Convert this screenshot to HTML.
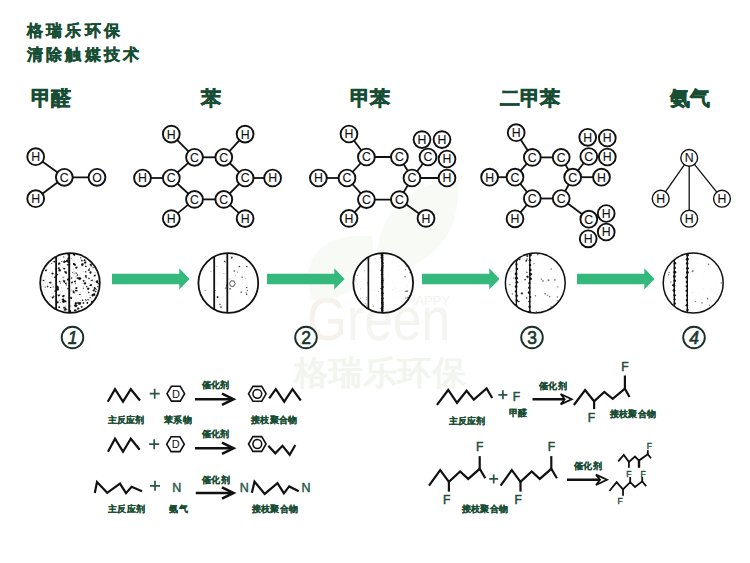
<!DOCTYPE html>
<html><head><meta charset="utf-8"><style>
html,body{margin:0;padding:0;background:#fff;}
body{width:750px;height:563px;overflow:hidden;}
svg{display:block;font-family:"Liberation Sans",sans-serif;}
.cjk{font-family:"Liberation Sans",sans-serif;}
</style></head><body>
<svg width="750" height="563" viewBox="0 0 750 563">
<rect width="750" height="563" fill="#fff"/>
<path d="M312,300 C300,262 318,232 372,236 C378,272 360,300 312,300 Z" fill="#f8faf5"/>
<path d="M378,272 C372,222 400,184 458,180 C462,236 430,270 378,272 Z" fill="#f8faf5"/>
<text x="307" y="340" font-family="Liberation Sans" font-size="62" textLength="143" lengthAdjust="spacingAndGlyphs" fill="#f7f1ec">G<tspan fill="#f4f4f1">reen</tspan></text>
<text x="406" y="305" font-family="Liberation Sans" font-size="13" textLength="44" fill="#f3f3f0">HAPPY</text>
<text x="294" y="384" font-family="Liberation Serif" font-size="33" font-weight="bold" fill="#f1f5ee" textLength="172" lengthAdjust="spacingAndGlyphs">格瑞乐环保</text>
<text x="26.8" y="36.4" font-size="15.6" font-weight="900" fill="#174d33" stroke="#174d33" stroke-width="0.4" letter-spacing="3.3" class="cjk">格瑞乐环保</text>
<text x="26.8" y="60" font-size="15.6" font-weight="900" fill="#174d33" stroke="#174d33" stroke-width="0.4" letter-spacing="3.3" class="cjk">清除触媒技术</text>
<text x="50.5" y="105.3" font-size="19.8" font-weight="900" fill="#174d33" stroke="#174d33" stroke-width="0.6" text-anchor="middle" class="cjk">甲醛</text>
<text x="210.7" y="105.3" font-size="19.8" font-weight="900" fill="#174d33" stroke="#174d33" stroke-width="0.6" text-anchor="middle" class="cjk">苯</text>
<text x="370.4" y="105.3" font-size="19.8" font-weight="900" fill="#174d33" stroke="#174d33" stroke-width="0.6" text-anchor="middle" class="cjk">甲苯</text>
<text x="529.5" y="105.3" font-size="19.8" font-weight="900" fill="#174d33" stroke="#174d33" stroke-width="0.6" text-anchor="middle" class="cjk">二甲苯</text>
<text x="689.5" y="105.3" font-size="19.8" font-weight="900" fill="#174d33" stroke="#174d33" stroke-width="0.6" text-anchor="middle" class="cjk">氨气</text>
<line x1="35.7" y1="156.7" x2="64.3" y2="177.3" stroke="#111" stroke-width="1.8"/>
<line x1="35.7" y1="198.7" x2="64.3" y2="177.3" stroke="#111" stroke-width="1.8"/>
<line x1="64.3" y1="177.3" x2="97" y2="177.3" stroke="#111" stroke-width="1.8"/>
<circle cx="35.7" cy="156.7" r="8.4" fill="#fff" stroke="#111" stroke-width="1.9"/>
<text x="35.7" y="161.128" font-size="12.3" text-anchor="middle" fill="#111" stroke="#111" stroke-width="0.12" font-family="Liberation Sans">H</text>
<circle cx="64.3" cy="177.3" r="8.4" fill="#fff" stroke="#111" stroke-width="1.9"/>
<text x="64.3" y="181.728" font-size="12.3" text-anchor="middle" fill="#111" stroke="#111" stroke-width="0.12" font-family="Liberation Sans">C</text>
<circle cx="97" cy="177.3" r="8.4" fill="#fff" stroke="#111" stroke-width="1.9"/>
<text x="97" y="181.728" font-size="12.3" text-anchor="middle" fill="#111" stroke="#111" stroke-width="0.12" font-family="Liberation Sans">O</text>
<circle cx="35.7" cy="198.7" r="8.4" fill="#fff" stroke="#111" stroke-width="1.9"/>
<text x="35.7" y="203.128" font-size="12.3" text-anchor="middle" fill="#111" stroke="#111" stroke-width="0.12" font-family="Liberation Sans">H</text>
<line x1="194.5" y1="157.3" x2="223.8" y2="157.3" stroke="#111" stroke-width="1.8"/>
<line x1="223.8" y1="157.3" x2="245.1" y2="178" stroke="#111" stroke-width="1.8"/>
<line x1="245.1" y1="178" x2="223.8" y2="199.4" stroke="#111" stroke-width="1.8"/>
<line x1="223.8" y1="199.4" x2="194.5" y2="199.4" stroke="#111" stroke-width="1.8"/>
<line x1="194.5" y1="199.4" x2="171.3" y2="178" stroke="#111" stroke-width="1.8"/>
<line x1="171.3" y1="178" x2="194.5" y2="157.3" stroke="#111" stroke-width="1.8"/>
<line x1="194.5" y1="157.3" x2="171.3" y2="134.1" stroke="#111" stroke-width="1.8"/>
<line x1="223.8" y1="157.3" x2="245.1" y2="134.1" stroke="#111" stroke-width="1.8"/>
<line x1="245.1" y1="178" x2="272.6" y2="178" stroke="#111" stroke-width="1.8"/>
<line x1="223.8" y1="199.4" x2="245.1" y2="218.6" stroke="#111" stroke-width="1.8"/>
<line x1="194.5" y1="199.4" x2="171.3" y2="218.6" stroke="#111" stroke-width="1.8"/>
<line x1="171.3" y1="178" x2="142.5" y2="178" stroke="#111" stroke-width="1.8"/>
<circle cx="194.5" cy="157.3" r="8.4" fill="#fff" stroke="#111" stroke-width="1.9"/>
<text x="194.5" y="161.728" font-size="12.3" text-anchor="middle" fill="#111" stroke="#111" stroke-width="0.12" font-family="Liberation Sans">C</text>
<circle cx="223.8" cy="157.3" r="8.4" fill="#fff" stroke="#111" stroke-width="1.9"/>
<text x="223.8" y="161.728" font-size="12.3" text-anchor="middle" fill="#111" stroke="#111" stroke-width="0.12" font-family="Liberation Sans">C</text>
<circle cx="245.1" cy="178" r="8.4" fill="#fff" stroke="#111" stroke-width="1.9"/>
<text x="245.1" y="182.428" font-size="12.3" text-anchor="middle" fill="#111" stroke="#111" stroke-width="0.12" font-family="Liberation Sans">C</text>
<circle cx="223.8" cy="199.4" r="8.4" fill="#fff" stroke="#111" stroke-width="1.9"/>
<text x="223.8" y="203.828" font-size="12.3" text-anchor="middle" fill="#111" stroke="#111" stroke-width="0.12" font-family="Liberation Sans">C</text>
<circle cx="194.5" cy="199.4" r="8.4" fill="#fff" stroke="#111" stroke-width="1.9"/>
<text x="194.5" y="203.828" font-size="12.3" text-anchor="middle" fill="#111" stroke="#111" stroke-width="0.12" font-family="Liberation Sans">C</text>
<circle cx="171.3" cy="178" r="8.4" fill="#fff" stroke="#111" stroke-width="1.9"/>
<text x="171.3" y="182.428" font-size="12.3" text-anchor="middle" fill="#111" stroke="#111" stroke-width="0.12" font-family="Liberation Sans">C</text>
<circle cx="171.3" cy="134.1" r="8.4" fill="#fff" stroke="#111" stroke-width="1.9"/>
<text x="171.3" y="138.528" font-size="12.3" text-anchor="middle" fill="#111" stroke="#111" stroke-width="0.12" font-family="Liberation Sans">H</text>
<circle cx="245.1" cy="134.1" r="8.4" fill="#fff" stroke="#111" stroke-width="1.9"/>
<text x="245.1" y="138.528" font-size="12.3" text-anchor="middle" fill="#111" stroke="#111" stroke-width="0.12" font-family="Liberation Sans">H</text>
<circle cx="272.6" cy="178" r="8.4" fill="#fff" stroke="#111" stroke-width="1.9"/>
<text x="272.6" y="182.428" font-size="12.3" text-anchor="middle" fill="#111" stroke="#111" stroke-width="0.12" font-family="Liberation Sans">H</text>
<circle cx="245.1" cy="218.6" r="8.4" fill="#fff" stroke="#111" stroke-width="1.9"/>
<text x="245.1" y="223.028" font-size="12.3" text-anchor="middle" fill="#111" stroke="#111" stroke-width="0.12" font-family="Liberation Sans">H</text>
<circle cx="171.3" cy="218.6" r="8.4" fill="#fff" stroke="#111" stroke-width="1.9"/>
<text x="171.3" y="223.028" font-size="12.3" text-anchor="middle" fill="#111" stroke="#111" stroke-width="0.12" font-family="Liberation Sans">H</text>
<circle cx="142.5" cy="178" r="8.4" fill="#fff" stroke="#111" stroke-width="1.9"/>
<text x="142.5" y="182.428" font-size="12.3" text-anchor="middle" fill="#111" stroke="#111" stroke-width="0.12" font-family="Liberation Sans">H</text>
<line x1="366.4" y1="157" x2="399.4" y2="157" stroke="#111" stroke-width="1.8"/>
<line x1="399.4" y1="157" x2="412" y2="178" stroke="#111" stroke-width="1.8"/>
<line x1="412" y1="178" x2="399.4" y2="199.6" stroke="#111" stroke-width="1.8"/>
<line x1="399.4" y1="199.6" x2="366.4" y2="199.6" stroke="#111" stroke-width="1.8"/>
<line x1="366.4" y1="199.6" x2="347" y2="178" stroke="#111" stroke-width="1.8"/>
<line x1="347" y1="178" x2="366.4" y2="157" stroke="#111" stroke-width="1.8"/>
<line x1="366.4" y1="157" x2="349" y2="134" stroke="#111" stroke-width="1.8"/>
<line x1="347" y1="178" x2="318.4" y2="178" stroke="#111" stroke-width="1.8"/>
<line x1="366.4" y1="199.6" x2="349" y2="218.4" stroke="#111" stroke-width="1.8"/>
<line x1="399.4" y1="199.6" x2="426" y2="218.4" stroke="#111" stroke-width="1.8"/>
<line x1="412" y1="178" x2="447" y2="178" stroke="#111" stroke-width="1.8"/>
<line x1="412" y1="178" x2="428" y2="157" stroke="#111" stroke-width="1.8"/>
<circle cx="366.4" cy="157" r="8.4" fill="#fff" stroke="#111" stroke-width="1.9"/>
<text x="366.4" y="161.428" font-size="12.3" text-anchor="middle" fill="#111" stroke="#111" stroke-width="0.12" font-family="Liberation Sans">C</text>
<circle cx="399.4" cy="157" r="8.4" fill="#fff" stroke="#111" stroke-width="1.9"/>
<text x="399.4" y="161.428" font-size="12.3" text-anchor="middle" fill="#111" stroke="#111" stroke-width="0.12" font-family="Liberation Sans">C</text>
<circle cx="412" cy="178" r="8.4" fill="#fff" stroke="#111" stroke-width="1.9"/>
<text x="412" y="182.428" font-size="12.3" text-anchor="middle" fill="#111" stroke="#111" stroke-width="0.12" font-family="Liberation Sans">C</text>
<circle cx="399.4" cy="199.6" r="8.4" fill="#fff" stroke="#111" stroke-width="1.9"/>
<text x="399.4" y="204.028" font-size="12.3" text-anchor="middle" fill="#111" stroke="#111" stroke-width="0.12" font-family="Liberation Sans">C</text>
<circle cx="366.4" cy="199.6" r="8.4" fill="#fff" stroke="#111" stroke-width="1.9"/>
<text x="366.4" y="204.028" font-size="12.3" text-anchor="middle" fill="#111" stroke="#111" stroke-width="0.12" font-family="Liberation Sans">C</text>
<circle cx="347" cy="178" r="8.4" fill="#fff" stroke="#111" stroke-width="1.9"/>
<text x="347" y="182.428" font-size="12.3" text-anchor="middle" fill="#111" stroke="#111" stroke-width="0.12" font-family="Liberation Sans">C</text>
<circle cx="349" cy="134" r="8.4" fill="#fff" stroke="#111" stroke-width="1.9"/>
<text x="349" y="138.428" font-size="12.3" text-anchor="middle" fill="#111" stroke="#111" stroke-width="0.12" font-family="Liberation Sans">H</text>
<circle cx="318.4" cy="178" r="8.4" fill="#fff" stroke="#111" stroke-width="1.9"/>
<text x="318.4" y="182.428" font-size="12.3" text-anchor="middle" fill="#111" stroke="#111" stroke-width="0.12" font-family="Liberation Sans">H</text>
<circle cx="349" cy="218.4" r="8.4" fill="#fff" stroke="#111" stroke-width="1.9"/>
<text x="349" y="222.828" font-size="12.3" text-anchor="middle" fill="#111" stroke="#111" stroke-width="0.12" font-family="Liberation Sans">H</text>
<circle cx="426" cy="218.4" r="8.4" fill="#fff" stroke="#111" stroke-width="1.9"/>
<text x="426" y="222.828" font-size="12.3" text-anchor="middle" fill="#111" stroke="#111" stroke-width="0.12" font-family="Liberation Sans">H</text>
<circle cx="447" cy="178" r="8.4" fill="#fff" stroke="#111" stroke-width="1.9"/>
<text x="447" y="182.428" font-size="12.3" text-anchor="middle" fill="#111" stroke="#111" stroke-width="0.12" font-family="Liberation Sans">H</text>
<circle cx="428" cy="157" r="8.4" fill="#fff" stroke="#111" stroke-width="1.9"/>
<text x="428" y="161.428" font-size="12.3" text-anchor="middle" fill="#111" stroke="#111" stroke-width="0.12" font-family="Liberation Sans">C</text>
<circle cx="422" cy="139.6" r="8.4" fill="#fff" stroke="#111" stroke-width="1.9"/>
<text x="422" y="144.028" font-size="12.3" text-anchor="middle" fill="#111" stroke="#111" stroke-width="0.12" font-family="Liberation Sans">H</text>
<circle cx="442" cy="139.6" r="8.4" fill="#fff" stroke="#111" stroke-width="1.9"/>
<text x="442" y="144.028" font-size="12.3" text-anchor="middle" fill="#111" stroke="#111" stroke-width="0.12" font-family="Liberation Sans">H</text>
<circle cx="447" cy="159" r="8.4" fill="#fff" stroke="#111" stroke-width="1.9"/>
<text x="447" y="163.428" font-size="12.3" text-anchor="middle" fill="#111" stroke="#111" stroke-width="0.12" font-family="Liberation Sans">H</text>
<line x1="532.3" y1="157.4" x2="561.2" y2="157.4" stroke="#111" stroke-width="1.8"/>
<line x1="561.2" y1="157.4" x2="572.7" y2="177.2" stroke="#111" stroke-width="1.8"/>
<line x1="572.7" y1="177.2" x2="561.2" y2="198.5" stroke="#111" stroke-width="1.8"/>
<line x1="561.2" y1="198.5" x2="532.3" y2="198.5" stroke="#111" stroke-width="1.8"/>
<line x1="532.3" y1="198.5" x2="515" y2="177.2" stroke="#111" stroke-width="1.8"/>
<line x1="515" y1="177.2" x2="532.3" y2="157.4" stroke="#111" stroke-width="1.8"/>
<line x1="532.3" y1="157.4" x2="516.2" y2="132.7" stroke="#111" stroke-width="1.8"/>
<line x1="515" y1="177.2" x2="489.6" y2="177.2" stroke="#111" stroke-width="1.8"/>
<line x1="532.3" y1="198.5" x2="515" y2="218.8" stroke="#111" stroke-width="1.8"/>
<line x1="572.7" y1="177.2" x2="601.5" y2="177.2" stroke="#111" stroke-width="1.8"/>
<line x1="572.7" y1="177.2" x2="588.8" y2="156.5" stroke="#111" stroke-width="1.8"/>
<line x1="561.2" y1="198.5" x2="588.8" y2="219.2" stroke="#111" stroke-width="1.8"/>
<circle cx="532.3" cy="157.4" r="8.4" fill="#fff" stroke="#111" stroke-width="1.9"/>
<text x="532.3" y="161.828" font-size="12.3" text-anchor="middle" fill="#111" stroke="#111" stroke-width="0.12" font-family="Liberation Sans">C</text>
<circle cx="561.2" cy="157.4" r="8.4" fill="#fff" stroke="#111" stroke-width="1.9"/>
<text x="561.2" y="161.828" font-size="12.3" text-anchor="middle" fill="#111" stroke="#111" stroke-width="0.12" font-family="Liberation Sans">C</text>
<circle cx="572.7" cy="177.2" r="8.4" fill="#fff" stroke="#111" stroke-width="1.9"/>
<text x="572.7" y="181.628" font-size="12.3" text-anchor="middle" fill="#111" stroke="#111" stroke-width="0.12" font-family="Liberation Sans">C</text>
<circle cx="561.2" cy="198.5" r="8.4" fill="#fff" stroke="#111" stroke-width="1.9"/>
<text x="561.2" y="202.928" font-size="12.3" text-anchor="middle" fill="#111" stroke="#111" stroke-width="0.12" font-family="Liberation Sans">C</text>
<circle cx="532.3" cy="198.5" r="8.4" fill="#fff" stroke="#111" stroke-width="1.9"/>
<text x="532.3" y="202.928" font-size="12.3" text-anchor="middle" fill="#111" stroke="#111" stroke-width="0.12" font-family="Liberation Sans">C</text>
<circle cx="515" cy="177.2" r="8.4" fill="#fff" stroke="#111" stroke-width="1.9"/>
<text x="515" y="181.628" font-size="12.3" text-anchor="middle" fill="#111" stroke="#111" stroke-width="0.12" font-family="Liberation Sans">C</text>
<circle cx="516.2" cy="132.7" r="8.4" fill="#fff" stroke="#111" stroke-width="1.9"/>
<text x="516.2" y="137.128" font-size="12.3" text-anchor="middle" fill="#111" stroke="#111" stroke-width="0.12" font-family="Liberation Sans">H</text>
<circle cx="489.6" cy="177.2" r="8.4" fill="#fff" stroke="#111" stroke-width="1.9"/>
<text x="489.6" y="181.628" font-size="12.3" text-anchor="middle" fill="#111" stroke="#111" stroke-width="0.12" font-family="Liberation Sans">H</text>
<circle cx="515" cy="218.8" r="8.4" fill="#fff" stroke="#111" stroke-width="1.9"/>
<text x="515" y="223.228" font-size="12.3" text-anchor="middle" fill="#111" stroke="#111" stroke-width="0.12" font-family="Liberation Sans">H</text>
<circle cx="601.5" cy="177.2" r="8.4" fill="#fff" stroke="#111" stroke-width="1.9"/>
<text x="601.5" y="181.628" font-size="12.3" text-anchor="middle" fill="#111" stroke="#111" stroke-width="0.12" font-family="Liberation Sans">H</text>
<circle cx="588.8" cy="156.5" r="8.4" fill="#fff" stroke="#111" stroke-width="1.9"/>
<text x="588.8" y="160.928" font-size="12.3" text-anchor="middle" fill="#111" stroke="#111" stroke-width="0.12" font-family="Liberation Sans">C</text>
<circle cx="587.7" cy="137.3" r="8.4" fill="#fff" stroke="#111" stroke-width="1.9"/>
<text x="587.7" y="141.728" font-size="12.3" text-anchor="middle" fill="#111" stroke="#111" stroke-width="0.12" font-family="Liberation Sans">H</text>
<circle cx="607.3" cy="138" r="8.4" fill="#fff" stroke="#111" stroke-width="1.9"/>
<text x="607.3" y="142.428" font-size="12.3" text-anchor="middle" fill="#111" stroke="#111" stroke-width="0.12" font-family="Liberation Sans">H</text>
<circle cx="607.3" cy="157" r="8.4" fill="#fff" stroke="#111" stroke-width="1.9"/>
<text x="607.3" y="161.428" font-size="12.3" text-anchor="middle" fill="#111" stroke="#111" stroke-width="0.12" font-family="Liberation Sans">H</text>
<circle cx="588.8" cy="219.2" r="8.4" fill="#fff" stroke="#111" stroke-width="1.9"/>
<text x="588.8" y="223.628" font-size="12.3" text-anchor="middle" fill="#111" stroke="#111" stroke-width="0.12" font-family="Liberation Sans">C</text>
<circle cx="606.2" cy="213.5" r="8.4" fill="#fff" stroke="#111" stroke-width="1.9"/>
<text x="606.2" y="217.928" font-size="12.3" text-anchor="middle" fill="#111" stroke="#111" stroke-width="0.12" font-family="Liberation Sans">H</text>
<circle cx="606.2" cy="232" r="8.4" fill="#fff" stroke="#111" stroke-width="1.9"/>
<text x="606.2" y="236.428" font-size="12.3" text-anchor="middle" fill="#111" stroke="#111" stroke-width="0.12" font-family="Liberation Sans">H</text>
<circle cx="588.2" cy="238.8" r="8.4" fill="#fff" stroke="#111" stroke-width="1.9"/>
<text x="588.2" y="243.228" font-size="12.3" text-anchor="middle" fill="#111" stroke="#111" stroke-width="0.12" font-family="Liberation Sans">H</text>
<line x1="689.2" y1="157.9" x2="660.7" y2="198.7" stroke="#111" stroke-width="1.3"/>
<line x1="689.2" y1="157.9" x2="722" y2="198.7" stroke="#111" stroke-width="1.3"/>
<line x1="689.2" y1="157.9" x2="689.2" y2="218.7" stroke="#111" stroke-width="1.3"/>
<circle cx="689.2" cy="157.9" r="8.4" fill="#fff" stroke="#111" stroke-width="1.4"/>
<text x="689.2" y="162.328" font-size="12.3" text-anchor="middle" fill="#111" stroke="#111" stroke-width="0.12" font-family="Liberation Sans">N</text>
<circle cx="660.7" cy="198.7" r="8.4" fill="#fff" stroke="#111" stroke-width="1.4"/>
<text x="660.7" y="203.128" font-size="12.3" text-anchor="middle" fill="#111" stroke="#111" stroke-width="0.12" font-family="Liberation Sans">H</text>
<circle cx="722" cy="198.7" r="8.4" fill="#fff" stroke="#111" stroke-width="1.4"/>
<text x="722" y="203.128" font-size="12.3" text-anchor="middle" fill="#111" stroke="#111" stroke-width="0.12" font-family="Liberation Sans">H</text>
<circle cx="689.2" cy="218.7" r="8.4" fill="#fff" stroke="#111" stroke-width="1.4"/>
<text x="689.2" y="223.128" font-size="12.3" text-anchor="middle" fill="#111" stroke="#111" stroke-width="0.12" font-family="Liberation Sans">H</text>
<g>
<clipPath id="clip70"><circle cx="70" cy="283" r="29.8"/></clipPath>
<circle cx="70" cy="283" r="29.8" fill="#fff"/>
<g clip-path="url(#clip70)">
<polygon points="59.6,261.9 60.0,262.4 59.3,262.4 59.1,262.0" fill="#aaa"/>
<polygon points="43.0,286.4 43.7,286.4 43.9,286.8 43.9,287.2 43.4,287.2 42.9,287.0" fill="#aaa"/>
<polygon points="74.8,290.9 75.2,291.1 75.3,291.4 75.0,291.7 74.7,291.4 74.5,291.2" fill="#aaa"/>
<polygon points="57.9,283.1 57.7,282.7 57.9,282.5 58.2,282.6 58.4,282.9" fill="#aaa"/>
<polygon points="92.0,271.9 92.4,271.7 92.8,271.6 93.1,271.9 92.8,272.3 92.3,272.3" fill="#aaa"/>
<polygon points="93.4,274.1 92.8,274.2 92.8,273.7 93.3,273.4 93.7,273.8" fill="#aaa"/>
<polygon points="91.7,269.5 92.0,269.7 92.2,269.9 91.7,270.1 91.5,269.8" fill="#aaa"/>
<polygon points="71.9,289.2 72.4,289.4 72.2,290.0 71.7,289.7" fill="#aaa"/>
<polygon points="63.4,277.1 63.3,276.9 63.5,276.8 63.8,276.8 63.9,277.1 63.6,277.1" fill="#aaa"/>
<polygon points="62.3,291.3 61.8,290.9 62.4,290.6 62.8,290.8 63.0,291.1 62.7,291.3" fill="#aaa"/>
<polygon points="97.4,284.5 97.3,284.8 97.1,285.0 96.7,284.8 96.9,284.6 97.1,284.4" fill="#aaa"/>
<polygon points="77.0,299.6 77.2,300.3 76.6,300.5 76.5,300.1" fill="#aaa"/>
<polygon points="55.8,294.0 56.3,294.5 55.7,294.8 55.1,294.7 55.0,294.0" fill="#aaa"/>
<polygon points="61.2,291.2 60.9,291.9 60.1,291.8 60.3,291.0" fill="#aaa"/>
<polygon points="64.2,277.6 63.5,277.6 63.1,277.2 63.4,276.7 64.1,276.6 64.3,277.1" fill="#aaa"/>
<polygon points="88.2,296.4 88.2,296.6 87.9,296.7 87.8,296.6 87.8,296.4 88.0,296.3" fill="#aaa"/>
<polygon points="60.7,280.8 60.8,280.3 61.2,280.3 61.5,280.4 61.7,280.7 61.2,280.9" fill="#aaa"/>
<polygon points="72.9,272.7 73.2,272.5 73.5,272.4 73.8,272.6 73.7,272.9 73.2,273.0" fill="#aaa"/>
<polygon points="76.1,265.0 76.3,264.7 76.7,264.8 76.7,265.2 76.5,265.4 76.2,265.2" fill="#aaa"/>
<polygon points="44.9,292.9 44.5,293.4 43.9,293.3 44.3,292.8" fill="#aaa"/>
<polygon points="49.5,293.1 49.6,292.9 49.8,292.7 50.1,292.9 49.9,293.1 49.7,293.3" fill="#aaa"/>
<polygon points="46.3,269.2 46.0,269.0 46.3,268.9 46.6,269.1" fill="#aaa"/>
<polygon points="82.2,258.8 81.9,258.6 81.8,258.5 81.9,258.4 82.1,258.4 82.4,258.6" fill="#aaa"/>
<polygon points="94.9,290.4 94.8,290.3 94.7,290.2 94.9,290.0 95.1,290.1 95.1,290.3" fill="#aaa"/>
<polygon points="84.0,286.3 83.7,286.2 83.8,285.8 84.2,285.8 84.2,286.1" fill="#aaa"/>
<polygon points="51.6,305.9 51.7,305.6 52.4,305.5 52.1,306.0" fill="#aaa"/>
<polygon points="80.5,270.1 80.2,270.2 80.0,270.1 80.1,269.8 80.5,269.7" fill="#aaa"/>
<polygon points="50.8,273.2 50.9,273.1 51.1,273.1 51.1,273.3 50.9,273.4" fill="#aaa"/>
<polygon points="75.6,284.4 75.7,284.9 75.2,285.1 74.7,285.0 74.6,284.5 75.1,284.3" fill="#aaa"/>
<polygon points="81.5,283.1 82.0,282.7 82.6,282.9 82.6,283.5 82.1,283.7 81.5,283.7" fill="#aaa"/>
<polygon points="67.0,256.1 67.3,256.0 67.3,256.2 67.2,256.4 66.9,256.4 66.9,256.2" fill="#aaa"/>
<polygon points="83.3,265.4 83.6,264.9 84.2,265.1 84.0,265.6 83.7,265.8" fill="#aaa"/>
<polygon points="57.9,287.1 58.2,286.9 58.5,287.0 58.3,287.3" fill="#aaa"/>
<polygon points="58.2,258.5 58.5,258.1 58.9,258.1 59.0,258.4 58.7,258.6" fill="#aaa"/>
<polygon points="88.9,283.9 88.7,283.4 89.0,282.9 89.5,283.2 89.7,283.6 89.3,283.8" fill="#aaa"/>
<polygon points="59.4,273.0 59.8,273.3 59.6,273.8 59.2,273.4" fill="#aaa"/>
<polygon points="56.9,309.1 56.9,308.7 57.2,308.8 57.4,309.0 57.2,309.2" fill="#aaa"/>
<polygon points="64.3,289.9 64.6,289.7 64.8,289.7 64.9,290.0 64.6,290.1" fill="#aaa"/>
<polygon points="69.1,293.3 68.9,293.3 68.6,293.1 68.9,292.9 69.1,292.9 69.2,293.1" fill="#aaa"/>
<polygon points="54.3,268.3 54.8,268.6 54.3,268.9 54.0,268.6" fill="#aaa"/>
<polygon points="48.0,283.5 47.3,283.6 47.2,283.0 47.9,282.8" fill="#aaa"/>
<polygon points="65.2,298.7 65.1,298.2 65.7,298.3 66.1,298.7 65.7,299.1 65.4,299.0" fill="#aaa"/>
<polygon points="81.7,303.5 82.2,303.2 82.6,303.8 81.9,303.9" fill="#aaa"/>
<polygon points="78.1,295.1 78.0,294.8 78.2,294.7 78.5,294.9" fill="#aaa"/>
<polygon points="59.0,303.5 58.7,303.4 58.8,303.2 58.9,302.9 59.2,303.1 59.4,303.4" fill="#aaa"/>
<polygon points="65.2,293.6 65.6,293.8 65.5,294.1 65.1,294.1 65.0,293.8" fill="#aaa"/>
<polygon points="69.9,264.3 70.1,264.6 69.7,264.5 69.5,264.3 69.7,264.2" fill="#aaa"/>
<polygon points="82.9,271.8 82.9,272.3 82.6,272.0 82.6,271.7" fill="#aaa"/>
<polygon points="60.1,263.4 59.9,263.5 59.7,263.3 59.8,263.1 60.0,263.2" fill="#aaa"/>
<polygon points="51.4,285.7 51.4,285.3 51.8,285.1 52.0,285.4 52.0,285.8" fill="#aaa"/>
<polygon points="84.6,307.0 84.4,306.7 84.8,306.4 85.2,306.6 85.1,307.1" fill="#aaa"/>
<polygon points="46.6,295.3 46.7,295.8 46.5,296.1 46.2,296.1 46.2,295.7" fill="#aaa"/>
<polygon points="92.0,280.8 91.7,281.0 91.4,280.8 91.3,280.4 91.7,280.0 92.0,280.5" fill="#aaa"/>
<polygon points="45.9,283.2 45.4,283.3 45.3,282.7 45.9,282.3 46.2,282.9" fill="#aaa"/>
<polygon points="56.1,268.5 55.7,268.5 55.9,268.1 56.3,268.0 56.3,268.4" fill="#aaa"/>
<polygon points="46.4,281.4 46.4,281.7 45.9,282.1 45.5,281.4 46.0,280.9" fill="#aaa"/>
<polygon points="55.2,299.1 55.9,299.4 55.8,299.9 55.3,299.8" fill="#aaa"/>
<polygon points="89.0,277.8 88.8,277.6 89.0,277.4 89.3,277.2 89.4,277.6 89.4,277.9" fill="#aaa"/>
<polygon points="57.0,270.9 57.3,271.4 57.4,272.0 56.7,271.9 56.3,271.4" fill="#aaa"/>
<polygon points="45.6,287.8 45.1,287.9 45.2,287.3 45.7,287.4" fill="#aaa"/>
<polygon points="61.1,263.0 60.6,263.1 60.7,262.7 61.1,262.6" fill="#aaa"/>
<polygon points="62.9,306.7 63.6,306.9 63.6,307.4 63.0,307.3" fill="#aaa"/>
<polygon points="49.5,274.4 49.7,274.6 49.6,274.8 49.3,274.8 49.0,274.7 49.2,274.4" fill="#aaa"/>
<polygon points="54.7,276.5 54.7,276.2 55.0,276.0 55.3,276.3 55.2,276.6 54.9,276.6" fill="#aaa"/>
<polygon points="45.8,279.6 45.4,279.9 45.2,279.5 45.6,279.1" fill="#aaa"/>
<polygon points="44.2,290.3 43.4,290.0 43.9,289.5 44.6,289.6" fill="#aaa"/>
<polygon points="61.0,298.5 60.8,298.4 60.9,298.2 61.1,298.0 61.2,298.2 61.2,298.4" fill="#aaa"/>
<polygon points="81.0,306.8 80.7,306.8 80.5,306.5 80.7,306.3 81.1,306.4" fill="#aaa"/>
<polygon points="63.4,300.6 63.7,300.5 64.0,300.7 63.8,301.0 63.4,301.0" fill="#aaa"/>
<polygon points="75.1,292.5 75.5,292.7 75.2,293.0 74.8,292.8" fill="#aaa"/>
<polygon points="74.1,271.7 73.8,271.5 73.6,271.2 73.9,270.9 74.3,271.2 74.5,271.5" fill="#aaa"/>
<polygon points="87.3,277.3 86.8,277.5 86.6,277.0 87.0,276.9" fill="#aaa"/>
<polygon points="46.5,290.0 45.9,290.0 45.9,289.4 46.6,289.5" fill="#aaa"/>
<polygon points="87.0,295.6 87.2,295.8 87.1,295.9 86.9,295.9 86.7,295.8" fill="#aaa"/>
<polygon points="90.6,295.3 91.0,295.3 91.1,295.7 90.8,295.8 90.6,295.8 90.3,295.6" fill="#aaa"/>
<polygon points="51.9,276.1 51.9,276.7 51.4,276.8 51.0,276.3 51.4,276.0" fill="#aaa"/>
<polygon points="73.9,271.4 74.2,271.4 74.5,271.4 74.6,271.7 74.2,271.7 73.9,271.7" fill="#aaa"/>
<polygon points="91.5,298.5 91.8,298.8 91.4,298.8 91.2,298.7 91.0,298.5 91.3,298.3" fill="#aaa"/>
<polygon points="78.0,270.1 78.1,270.4 77.8,270.6 77.7,270.3" fill="#aaa"/>
<polygon points="76.4,281.6 76.2,281.9 75.9,281.8 75.9,281.5 76.0,281.3 76.3,281.4" fill="#aaa"/>
<polygon points="51.9,298.9 51.6,298.2 52.5,298.1 52.6,298.9" fill="#aaa"/>
<polygon points="49.1,301.8 49.5,301.4 50.2,301.8 49.5,302.3" fill="#aaa"/>
<polygon points="63.6,277.0 63.9,276.4 64.6,276.5 64.4,277.3" fill="#aaa"/>
<polygon points="75.4,294.5 75.2,294.0 75.9,294.0 76.0,294.5" fill="#aaa"/>
<polygon points="74.8,261.0 74.4,261.0 74.5,260.6 74.7,260.4 75.1,260.5 75.1,260.8" fill="#aaa"/>
<polygon points="46.0,275.7 46.7,275.9 46.4,276.4 45.9,276.4 45.4,276.0" fill="#aaa"/>
<polygon points="70.0,291.2 69.7,290.9 70.0,290.5 70.5,290.9" fill="#aaa"/>
<polygon points="79.9,291.5 80.5,291.7 80.5,292.2 80.2,292.4 79.6,292.6 79.5,292.0" fill="#aaa"/>
<polygon points="64.9,280.3 65.3,279.9 65.7,280.2 65.8,280.6 65.3,280.6" fill="#aaa"/>
<polygon points="51.4,273.8 52.0,273.4 52.5,273.8 52.4,274.4 51.7,274.4" fill="#aaa"/>
<polygon points="85.5,260.2 86.0,260.3 86.5,260.7 85.8,261.1 85.4,260.6" fill="#aaa"/>
<polygon points="63.6,310.1 63.8,309.7 64.3,309.7 64.6,310.3 64.0,310.4" fill="#aaa"/>
<polygon points="89.9,300.2 90.2,300.5 90.0,300.8 89.6,301.0 89.4,300.5" fill="#aaa"/>
<polygon points="88.2,301.1 87.9,300.9 88.1,300.6 88.5,300.5 88.8,300.7 88.6,301.1" fill="#aaa"/>
<polygon points="89.9,291.1 89.6,291.0 89.8,290.7 90.1,290.9" fill="#aaa"/>
<polygon points="52.9,276.9 52.9,277.4 52.6,277.7 52.3,277.4 52.1,277.0 52.4,276.8" fill="#aaa"/>
<polygon points="73.0,269.0 73.2,268.6 73.6,268.9 73.4,269.3" fill="#aaa"/>
<polygon points="49.3,271.9 49.9,272.0 49.9,272.4 49.6,272.7 49.1,272.4" fill="#aaa"/>
<polygon points="95.2,272.9 95.6,272.6 96.1,272.6 96.5,272.8 96.3,273.4 95.6,273.4" fill="#aaa"/>
<polygon points="60.4,268.5 60.3,268.2 60.4,267.9 60.7,268.0 60.7,268.3" fill="#aaa"/>
<polygon points="57.6,288.4 57.7,287.8 58.2,288.0 58.3,288.5" fill="#aaa"/>
<polygon points="69.8,285.3 70.3,285.4 70.3,285.9 69.7,285.8" fill="#aaa"/>
<polygon points="79.0,275.1 79.4,274.8 79.8,275.1 79.7,275.6 79.0,275.5" fill="#aaa"/>
<polygon points="74.3,307.5 74.9,307.8 74.7,308.3 74.3,308.1" fill="#aaa"/>
<polygon points="93.6,290.3 94.0,290.5 93.9,290.7 93.3,290.7" fill="#aaa"/>
<polygon points="83.9,264.1 84.1,264.3 84.3,264.4 84.1,264.6 83.8,264.6 83.9,264.3" fill="#aaa"/>
<polygon points="78.9,302.2 78.7,301.9 79.0,301.7 79.3,301.8 79.2,302.1" fill="#aaa"/>
<polygon points="50.3,300.8 50.0,301.2 49.5,301.4 49.4,300.9 49.8,300.5" fill="#aaa"/>
<polygon points="90.2,289.0 90.0,289.3 89.7,289.2 89.5,288.9 89.9,288.8" fill="#aaa"/>
<polygon points="87.2,270.7 86.9,270.7 86.7,270.4 86.8,270.2 87.1,270.2 87.3,270.4" fill="#aaa"/>
<polygon points="58.6,256.9 58.3,256.9 58.3,256.6 58.4,256.3 58.8,256.3 59.0,256.7" fill="#aaa"/>
<polygon points="68.9,288.5 68.4,288.5 68.3,288.1 68.7,288.1" fill="#aaa"/>
<polygon points="69.7,304.6 69.9,304.8 69.7,305.0 69.2,305.2 69.3,304.7" fill="#aaa"/>
<polygon points="55.7,299.1 56.0,299.6 55.8,299.8 55.5,299.8 55.3,299.5" fill="#aaa"/>
<polygon points="67.9,309.2 68.0,310.0 67.2,309.9 67.2,309.4" fill="#aaa"/>
<polygon points="71.1,264.0 70.6,264.3 70.1,264.5 69.8,263.8 70.4,263.7" fill="#aaa"/>
<polygon points="83.0,291.9 82.3,292.1 82.1,291.4 82.9,291.3" fill="#aaa"/>
<polygon points="62.4,276.6 62.0,276.7 61.9,276.3 62.3,276.2 62.6,276.4" fill="#aaa"/>
<polygon points="48.5,279.6 48.6,279.9 48.4,280.1 48.2,279.9 48.3,279.7" fill="#aaa"/>
<polygon points="72.8,262.0 72.8,261.5 73.5,261.4 73.6,261.9 73.3,262.2" fill="#aaa"/>
<polygon points="70.2,290.6 71.0,290.2 71.2,290.9 70.7,291.1" fill="#aaa"/>
<polygon points="63.6,277.9 63.6,278.2 63.3,278.2 63.1,278.0 63.3,277.8 63.5,277.8" fill="#aaa"/>
<polygon points="56.7,263.5 56.9,263.9 57.1,264.3 56.6,264.3 56.1,264.2 56.1,263.6" fill="#aaa"/>
<polygon points="83.5,277.5 84.0,277.0 84.3,277.6 83.9,278.0" fill="#aaa"/>
<polygon points="80.4,268.1 80.0,268.5 79.4,268.2 79.7,267.8 80.1,267.7" fill="#aaa"/>
<polygon points="92.6,287.1 92.6,287.8 92.0,287.9 91.4,287.6 91.9,287.3" fill="#aaa"/>
<polygon points="55.3,301.8 55.2,302.2 54.8,302.0 54.9,301.7" fill="#aaa"/>
<polygon points="56.6,281.1 56.2,281.2 56.0,280.9 56.3,280.6 56.9,280.7" fill="#aaa"/>
<polygon points="77.7,294.5 77.9,294.1 78.3,294.3 78.5,294.6 78.3,295.1 77.8,295.0" fill="#aaa"/>
<polygon points="43.2,284.5 42.7,284.2 43.0,283.8 43.5,283.7 43.6,284.2" fill="#aaa"/>
<polygon points="78.6,301.5 77.9,301.9 77.5,301.3 78.1,301.0" fill="#aaa"/>
<polygon points="71.6,279.3 71.1,279.4 70.5,279.0 71.1,278.7 71.8,278.7" fill="#aaa"/>
<polygon points="70.6,306.3 70.2,306.1 70.3,305.6 70.8,305.5 71.3,305.8 71.1,306.3" fill="#aaa"/>
<polygon points="68.3,272.0 67.9,271.8 68.0,271.5 68.4,271.6" fill="#aaa"/>
<polygon points="56.2,305.4 56.6,305.6 56.2,305.7 55.9,305.5" fill="#aaa"/>
<polygon points="47.0,266.4 46.9,266.8 46.5,267.1 45.9,266.8 46.0,266.2 46.6,266.0" fill="#aaa"/>
<polygon points="78.0,290.7 78.3,291.1 77.8,291.5 77.4,291.0 77.6,290.4" fill="#aaa"/>
<polygon points="62.6,280.4 62.4,280.1 62.7,279.9 63.1,279.8 63.1,280.2 63.0,280.5" fill="#aaa"/>
<polygon points="62.3,267.6 61.9,266.9 62.5,266.5 62.9,266.9 63.0,267.4" fill="#aaa"/>
<polygon points="70.7,284.1 70.8,283.8 71.3,283.8 71.4,284.2 71.0,284.6" fill="#aaa"/>
<polygon points="48.9,264.6 49.0,264.2 49.5,264.1 49.6,264.5 49.3,264.8" fill="#aaa"/>
<polygon points="81.0,301.7 81.6,301.7 81.9,302.2 81.5,302.5 80.9,302.3" fill="#aaa"/>
<polygon points="83.3,294.6 83.2,294.4 83.5,294.2 83.5,294.5" fill="#aaa"/>
<polygon points="72.9,269.0 73.0,268.7 73.5,268.7 73.5,269.1 73.4,269.5 72.9,269.4" fill="#aaa"/>
<polygon points="87.8,292.4 87.7,292.0 87.8,291.7 88.2,291.6 88.5,291.9 88.2,292.2" fill="#aaa"/>
<polygon points="75.0,310.6 74.6,310.6 74.7,310.3 74.9,310.1 75.2,310.2 75.4,310.6" fill="#aaa"/>
<polygon points="80.4,293.9 80.1,293.4 80.6,293.2 80.9,293.2 80.9,293.6" fill="#aaa"/>
<polygon points="46.6,284.7 47.2,284.7 47.2,285.1 46.9,285.3 46.6,285.1" fill="#aaa"/>
<polygon points="88.2,267.9 88.0,267.6 88.3,267.4 88.5,267.6" fill="#aaa"/>
<polygon points="62.4,310.3 62.6,310.1 62.8,310.2 62.9,310.5 62.5,310.5" fill="#aaa"/>
<polygon points="53.0,305.4 52.7,305.4 52.5,305.3 52.6,305.1 52.8,304.9 53.0,305.1" fill="#aaa"/>
<polygon points="85.6,265.0 85.1,264.7 85.4,264.1 86.1,264.6" fill="#aaa"/>
<polygon points="48.0,269.4 48.1,269.6 48.1,269.9 47.9,269.9 47.8,269.7 47.8,269.5" fill="#aaa"/>
<polygon points="53.3,293.8 53.0,293.8 52.8,293.6 53.0,293.3 53.3,293.2 53.5,293.6" fill="#aaa"/>
<polygon points="81.0,274.2 80.8,274.1 80.9,273.9 81.1,273.8 81.4,273.9 81.2,274.1" fill="#aaa"/>
<polygon points="63.2,297.7 63.5,297.3 64.1,297.5 64.1,298.2 63.4,298.2" fill="#aaa"/>
<polygon points="52.0,293.3 52.3,292.7 52.8,293.3 52.4,293.8" fill="#aaa"/>
<polygon points="50.0,274.1 49.8,273.9 49.9,273.7 50.2,273.6 50.3,273.9 50.3,274.1" fill="#aaa"/>
<polygon points="73.2,273.4 73.5,272.9 73.8,272.5 74.2,272.9 74.1,273.2 73.8,273.4" fill="#aaa"/>
<polygon points="58.4,260.0 58.0,259.9 58.1,259.6 58.6,259.6" fill="#aaa"/>
<polygon points="85.2,273.2 84.7,273.3 84.5,273.0 84.7,272.5 85.4,272.6" fill="#aaa"/>
<polygon points="55.3,267.9 55.0,268.1 54.8,267.8 55.1,267.6" fill="#aaa"/>
<polygon points="83.4,272.1 82.8,271.9 82.8,271.5 83.2,271.4 83.6,271.7" fill="#aaa"/>
<polygon points="88.6,295.3 89.2,294.8 89.6,295.2 89.2,295.6" fill="#aaa"/>
<polygon points="42.3,279.5 42.0,279.3 42.3,279.2 42.5,279.3 42.8,279.5 42.4,279.6" fill="#aaa"/>
<polygon points="50.2,296.5 50.5,296.2 50.9,296.3 50.7,296.9" fill="#aaa"/>
<polygon points="97.6,289.7 98.2,290.1 97.8,290.6 97.3,290.2" fill="#aaa"/>
<polygon points="71.6,290.6 72.3,290.8 72.1,291.4 71.3,291.2" fill="#aaa"/>
<polygon points="63.6,259.9 63.9,259.8 64.1,260.1 63.7,260.3" fill="#aaa"/>
<polygon points="53.8,287.2 53.9,287.5 53.6,287.5 53.4,287.5 53.3,287.2 53.6,287.0" fill="#aaa"/>
<polygon points="67.1,293.9 67.8,293.7 67.9,294.2 67.5,294.3" fill="#aaa"/>
<polygon points="53.1,270.9 53.1,271.2 52.6,271.5 52.4,271.1 52.6,270.5" fill="#aaa"/>
<polygon points="54.3,283.5 54.6,283.7 54.7,284.0 54.1,284.3 54.0,283.8" fill="#aaa"/>
<polygon points="66.9,302.9 67.1,303.2 66.7,303.7 66.3,303.0" fill="#aaa"/>
<polygon points="75.6,268.0 75.6,268.4 74.9,268.7 74.9,268.0 75.3,267.4" fill="#aaa"/>
<polygon points="63.3,281.8 63.4,281.5 63.6,281.3 63.9,281.5 63.6,281.7" fill="#aaa"/>
<polygon points="67.9,287.9 67.8,287.6 68.0,287.2 68.4,287.4 68.3,287.7" fill="#aaa"/>
<polygon points="61.7,287.4 61.4,287.9 60.9,287.4 61.4,287.0" fill="#aaa"/>
<polygon points="56.7,300.2 57.5,300.4 57.1,301.0 56.4,300.8" fill="#aaa"/>
<polygon points="43.2,273.3 43.5,273.0 43.8,273.1 43.9,273.5 43.5,273.6" fill="#aaa"/>
<polygon points="95.6,288.5 95.4,288.2 95.5,287.9 95.8,288.0 96.1,288.1 95.9,288.4" fill="#aaa"/>
<polygon points="65.6,305.1 65.4,304.9 65.6,304.7 65.8,304.9 65.9,305.1" fill="#aaa"/>
<polygon points="56.9,282.8 57.1,283.1 57.0,283.4 56.8,283.1" fill="#aaa"/>
<polygon points="72.3,305.8 71.7,305.5 72.1,305.0 72.5,305.3" fill="#aaa"/>
<polygon points="43.0,290.5 42.9,290.8 42.5,290.7 42.5,290.4 42.8,290.1" fill="#aaa"/>
<polygon points="52.8,284.3 53.2,284.8 52.8,285.3 52.2,285.0 52.3,284.5" fill="#aaa"/>
<polygon points="86.1,299.4 86.0,299.7 85.7,299.6 85.5,299.5 85.5,299.2 86.0,299.1" fill="#aaa"/>
<polygon points="85.6,258.7 85.2,258.7 85.2,258.4 85.6,258.3" fill="#aaa"/>
<polygon points="91.4,299.3 91.7,299.6 91.5,300.0 91.1,299.9 90.9,299.4" fill="#aaa"/>
<polygon points="78.8,277.7 78.3,277.2 78.6,276.7 79.1,277.1" fill="#aaa"/>
<polygon points="54.3,274.1 54.7,274.1 54.8,274.4 54.5,274.7 54.1,274.5" fill="#aaa"/>
<polygon points="57.2,273.3 56.6,273.1 56.7,272.6 57.4,272.7" fill="#aaa"/>
<polygon points="87.0,304.6 86.8,304.9 86.6,304.7 86.8,304.4" fill="#aaa"/>
<polygon points="80.9,258.1 81.1,258.5 81.4,258.7 81.0,258.8 80.8,258.7 80.7,258.5" fill="#aaa"/>
<polygon points="69.3,261.7 68.9,261.4 69.2,260.9 69.7,261.2" fill="#aaa"/>
<polygon points="44.5,295.2 44.3,295.3 44.1,295.2 44.2,294.9 44.5,295.0" fill="#aaa"/>
<polygon points="92.1,295.9 92.4,295.5 92.9,295.8 92.7,296.2 92.2,296.3" fill="#aaa"/>
<polygon points="81.4,296.4 81.9,296.5 81.9,297.1 81.1,297.0" fill="#aaa"/>
<polygon points="80.1,279.9 80.5,280.2 80.3,280.6 79.8,280.7 79.6,280.2" fill="#aaa"/>
<polygon points="72.1,290.0 71.5,290.3 71.2,289.8 71.3,289.3 71.9,289.4" fill="#aaa"/>
<polygon points="85.5,274.7 85.8,275.0 85.3,275.2 85.1,274.7" fill="#aaa"/>
<polygon points="42.9,276.1 42.4,276.2 42.0,275.8 42.5,275.6 43.0,275.7" fill="#aaa"/>
<polygon points="81.7,279.7 82.1,280.0 81.7,280.3 81.4,280.0" fill="#aaa"/>
<polygon points="73.9,256.6 74.2,256.4 74.5,256.5 74.4,256.7 74.3,257.0 74.0,256.9" fill="#aaa"/>
<polygon points="83.3,275.6 83.1,275.7 82.8,275.8 82.8,275.5 83.1,275.3" fill="#aaa"/>
<polygon points="66.7,276.4 67.1,276.5 67.1,276.9 66.7,277.0 66.4,276.8 66.4,276.4" fill="#aaa"/>
<polygon points="80.5,297.2 80.4,297.6 80.0,297.5 80.0,297.1" fill="#aaa"/>
<polygon points="70.1,303.9 69.8,304.0 69.5,303.8 69.6,303.5 70.1,303.4" fill="#aaa"/>
<polygon points="48.9,273.5 48.5,273.2 48.6,272.8 49.1,273.0" fill="#aaa"/>
<polygon points="81.0,271.2 81.1,271.5 81.0,271.8 80.6,271.6 80.6,271.3" fill="#aaa"/>
<polygon points="87.8,264.8 88.3,264.8 88.8,265.1 88.3,265.5 87.9,265.4 87.4,265.1" fill="#aaa"/>
<polygon points="64.6,296.7 64.3,296.8 64.2,296.5 64.4,296.3" fill="#aaa"/>
<polygon points="73.6,300.4 74.0,300.7 74.1,301.1 73.7,301.3 73.4,301.1 73.4,300.9" fill="#aaa"/>
<polygon points="90.2,295.5 89.9,295.5 89.7,295.2 90.0,295.0 90.4,295.2" fill="#aaa"/>
<polygon points="95.3,272.4 95.0,273.1 94.4,272.6 94.5,272.0" fill="#aaa"/>
<polygon points="51.8,261.9 52.0,261.9 52.2,262.3 51.8,262.3 51.6,262.1" fill="#aaa"/>
<polygon points="69.8,308.8 69.5,308.6 69.7,308.4 70.0,308.4 70.0,308.7" fill="#aaa"/>
<polygon points="75.1,259.1 74.9,259.4 74.6,259.3 74.7,259.0" fill="#aaa"/>
<polygon points="57.9,257.1 58.3,257.3 57.9,257.6 57.5,257.3" fill="#aaa"/>
<polygon points="64.8,303.0 65.1,302.8 65.2,303.1 65.1,303.3 64.8,303.3 64.7,303.1" fill="#aaa"/>
<polygon points="71.9,260.1 72.4,259.8 72.5,260.4 71.9,260.7" fill="#aaa"/>
<polygon points="72.3,267.4 72.2,267.7 71.9,267.6 72.0,267.3" fill="#aaa"/>
<polygon points="41.6,276.5 41.9,276.4 42.3,276.6 42.1,277.1 41.7,276.8" fill="#aaa"/>
<polygon points="86.5,263.3 86.6,263.7 86.3,263.9 86.2,263.5" fill="#aaa"/>
<polygon points="84.1,293.4 84.3,293.6 84.1,293.8 83.8,293.8 83.8,293.6" fill="#aaa"/>
<polygon points="44.4,289.2 44.2,289.5 43.9,289.4 43.9,289.1 44.1,289.0 44.4,289.0" fill="#aaa"/>
<polygon points="42.8,280.7 43.2,280.3 43.5,280.8 43.6,281.3 43.2,281.4 42.6,281.2" fill="#aaa"/>
<polygon points="89.9,266.9 90.3,266.6 90.5,267.0 90.5,267.3 90.1,267.3" fill="#aaa"/>
<polygon points="62.9,309.5 63.1,309.7 62.8,309.9 62.6,309.8 62.4,309.7 62.6,309.4" fill="#aaa"/>
<polygon points="59.9,265.8 60.2,265.7 60.5,266.0 60.2,266.3 59.8,266.1" fill="#aaa"/>
<polygon points="89.2,264.4 89.1,263.9 89.6,264.0 89.7,264.4" fill="#aaa"/>
<polygon points="90.0,262.7 90.2,263.1 89.5,263.2 89.4,262.5" fill="#aaa"/>
<polygon points="85.1,292.7 85.4,292.7 85.4,293.0 85.2,293.2 84.9,293.0" fill="#aaa"/>
<polygon points="94.8,283.0 94.3,283.2 94.0,282.7 94.6,282.5" fill="#aaa"/>
<polygon points="53.0,261.8 53.8,260.8 54.8,261.1 55.4,261.9 54.7,262.6 53.9,262.4" fill="#222"/>
<polygon points="49.8,281.8 51.3,281.7 51.6,283.3 50.0,283.4 48.6,282.7" fill="#222"/>
<polygon points="51.0,262.9 52.1,262.9 52.3,263.7 51.5,263.9" fill="#222"/>
<polygon points="54.1,277.9 54.1,276.9 55.2,276.1 56.1,277.2 55.3,278.2" fill="#222"/>
<polygon points="47.4,287.5 46.5,286.4 47.7,285.6 48.7,286.6" fill="#222"/>
<polygon points="53.2,287.4 52.5,287.1 52.8,286.4 53.8,286.5 53.8,287.2" fill="#222"/>
<polygon points="54.4,291.8 54.7,290.5 55.8,290.0 56.3,291.0 55.8,291.9" fill="#222"/>
<polygon points="50.6,286.7 51.4,287.2 51.2,287.9 50.8,288.1 50.2,287.9 49.7,287.2" fill="#222"/>
<polygon points="45.1,271.2 45.0,270.0 45.9,269.4 47.1,269.6 46.9,270.6 46.4,271.3" fill="#222"/>
<polygon points="43.4,281.1 42.4,280.7 43.2,279.8 44.1,280.0 44.6,280.9" fill="#222"/>
<polygon points="45.1,287.8 44.6,287.0 45.4,286.6 45.8,287.2" fill="#222"/>
<polygon points="54.9,269.8 55.1,269.2 55.8,269.1 55.6,269.9" fill="#222"/>
<polygon points="54.8,257.9 55.4,256.8 56.6,257.2 56.0,258.0" fill="#222"/>
<polygon points="51.5,297.0 53.1,296.2 54.0,298.0 52.2,298.4" fill="#222"/>
<polygon points="52.8,295.9 53.9,295.5 54.5,296.0 54.4,297.0 53.4,296.7" fill="#222"/>
<polygon points="52.6,272.4 53.9,273.4 52.9,274.7 51.7,274.1 51.3,273.1" fill="#222"/>
<polygon points="65.5,308.1 67.4,309.2 65.8,310.4 63.8,310.8 64.3,309.0" fill="#111"/>
<polygon points="69.8,257.6 69.5,259.2 67.2,259.4 67.6,257.4" fill="#111"/>
<polygon points="60.2,307.9 58.6,307.9 58.2,306.5 59.9,306.2" fill="#111"/>
<polygon points="62.0,297.1 62.7,295.1 64.8,295.1 64.1,297.0" fill="#111"/>
<polygon points="64.6,257.0 63.8,257.5 62.9,256.9 63.8,256.2" fill="#111"/>
<polygon points="56.1,280.4 57.0,281.1 55.9,281.6 55.1,280.8" fill="#111"/>
<polygon points="66.0,305.4 66.3,305.9 65.6,306.6 65.5,305.7" fill="#111"/>
<polygon points="62.2,301.4 63.5,301.0 64.3,301.8 64.2,302.9 63.1,302.8 62.2,302.5" fill="#111"/>
<polygon points="57.8,295.9 57.5,294.7 58.8,294.4 60.3,294.6 59.5,295.9 58.6,296.6" fill="#111"/>
<polygon points="59.1,289.4 57.8,291.1 56.2,289.3 58.0,287.9" fill="#111"/>
<polygon points="65.9,306.9 64.9,308.6 63.0,308.6 63.5,306.7" fill="#111"/>
<polygon points="68.6,278.4 69.5,279.5 68.6,280.5 67.1,280.4 67.0,278.8" fill="#111"/>
<polygon points="64.9,273.0 64.8,270.9 66.8,271.9 66.7,274.2" fill="#111"/>
<polygon points="65.9,285.1 66.0,284.6 66.5,284.6 67.0,285.0 66.5,285.7" fill="#111"/>
<polygon points="63.0,300.6 62.2,299.9 61.3,299.0 62.5,298.7 63.8,298.5 64.2,299.9" fill="#111"/>
<polygon points="59.6,268.1 59.8,268.6 59.3,268.8 59.0,268.7 58.9,268.5 59.1,268.2" fill="#111"/>
<polygon points="58.5,286.2 58.0,287.4 56.7,287.2 55.7,286.7 56.1,285.4 57.3,285.4" fill="#111"/>
<polygon points="60.8,303.0 60.2,303.1 59.9,302.5 60.7,302.5" fill="#111"/>
<polygon points="65.0,272.3 64.0,272.2 64.1,271.3 65.0,271.6" fill="#111"/>
<polygon points="65.9,260.7 67.0,259.3 68.3,260.5 68.4,262.7 66.4,262.0" fill="#111"/>
<polygon points="68.2,253.7 69.8,255.1 68.1,255.6 67.0,254.9" fill="#111"/>
<polygon points="58.5,281.6 59.5,280.7 60.5,281.2 59.9,282.1" fill="#111"/>
<polygon points="56.2,274.5 56.9,273.6 58.2,274.3 57.6,275.5 56.0,275.7" fill="#111"/>
<polygon points="60.3,264.2 57.9,265.0 58.2,262.7 60.1,262.4" fill="#111"/>
<polygon points="60.2,300.2 59.9,300.5 59.4,300.6 59.1,300.3 59.3,299.9 59.9,299.7" fill="#111"/>
<polygon points="64.3,260.3 66.2,261.3 65.2,262.7 63.4,263.0 63.3,261.6" fill="#111"/>
<polygon points="61.5,261.9 61.2,261.6 61.3,261.1 61.9,261.2 62.6,261.5 62.2,262.1" fill="#111"/>
<polygon points="68.8,264.7 68.2,265.8 67.0,265.2 66.8,264.2 68.1,264.0" fill="#111"/>
<polygon points="63.0,268.3 63.7,267.7 64.6,267.9 65.3,268.9 64.1,269.4 63.3,269.0" fill="#111"/>
<polygon points="58.3,300.9 58.7,302.9 56.6,303.6 56.1,302.1 56.7,301.4" fill="#111"/>
<polygon points="58.3,271.3 58.8,268.7 61.2,269.8 60.4,271.6" fill="#111"/>
<polygon points="64.0,302.0 62.6,301.9 61.8,300.7 63.2,299.9 64.6,299.7 64.7,301.1" fill="#111"/>
<polygon points="63.0,281.7 63.5,279.6 65.3,281.0 64.7,283.1" fill="#111"/>
<polygon points="63.1,277.7 62.5,277.5 62.6,277.0 63.0,276.7 63.4,276.9 63.6,277.3" fill="#111"/>
<polygon points="55.6,287.5 56.7,286.5 58.3,286.6 58.9,288.4 57.3,289.0 56.0,288.8" fill="#111"/>
<polygon points="57.6,269.1 58.0,267.6 59.4,267.2 59.7,268.7" fill="#111"/>
<polygon points="67.6,289.2 67.0,289.0 67.2,288.4 67.8,287.9 68.9,288.3 68.2,289.2" fill="#111"/>
<polygon points="68.2,262.7 67.5,262.0 68.1,261.2 69.0,261.6 69.2,262.1 68.9,262.7" fill="#111"/>
<polygon points="60.9,282.9 60.7,283.4 60.2,283.7 59.8,283.3 59.6,282.8 60.3,282.6" fill="#111"/>
<polygon points="63.9,300.0 66.2,300.4 66.6,302.2 63.9,302.3" fill="#111"/>
<polygon points="65.6,282.4 66.6,282.7 66.6,283.9 65.2,284.2 64.9,283.0" fill="#111"/>
<polygon points="64.0,268.9 64.4,268.0 65.4,268.6 64.8,269.3" fill="#111"/>
<polygon points="65.5,271.9 65.8,271.1 66.6,271.8 66.7,272.5 65.8,272.7" fill="#111"/>
<polygon points="85.0,299.1 85.9,299.0 85.8,299.8 84.9,299.9" fill="#111"/>
<polygon points="92.2,284.6 91.9,285.8 90.7,285.9 89.2,285.9 90.1,284.6 91.0,283.9" fill="#111"/>
<polygon points="70.1,297.8 70.8,296.4 71.9,297.5 72.2,298.9 70.5,299.1" fill="#111"/>
<polygon points="94.9,290.0 93.7,289.5 94.0,288.5 95.0,288.9" fill="#111"/>
<polygon points="97.7,279.9 98.2,281.2 98.2,282.9 96.5,282.9 95.5,281.6 96.4,280.7" fill="#111"/>
<polygon points="93.7,295.7 92.8,294.7 93.4,293.4 95.1,293.0 95.2,294.6 95.2,296.1" fill="#111"/>
<polygon points="76.7,275.5 76.8,274.7 77.5,274.0 78.2,275.0 77.6,276.0" fill="#111"/>
<polygon points="70.8,305.8 71.2,306.4 70.4,306.6 70.1,306.0" fill="#111"/>
<polygon points="80.9,301.9 80.9,304.5 78.6,304.9 78.2,302.2" fill="#111"/>
<polygon points="83.4,279.9 84.5,280.6 83.8,281.9 82.4,280.9" fill="#111"/>
<polygon points="96.3,291.2 96.2,292.1 95.0,292.2 95.0,291.1 95.7,290.7" fill="#111"/>
<polygon points="86.6,302.9 86.7,302.1 87.8,301.7 88.3,303.0 87.2,303.7" fill="#111"/>
<polygon points="83.0,287.3 83.1,286.6 83.7,287.0 83.5,287.6" fill="#111"/>
<polygon points="76.8,306.9 74.8,306.8 73.7,305.1 75.9,303.9 77.6,305.5" fill="#111"/>
<polygon points="96.5,289.0 96.9,289.7 96.1,289.8 95.5,289.5 95.2,288.9 95.9,288.2" fill="#111"/>
<polygon points="90.4,265.8 91.5,265.1 92.1,266.3 90.8,266.7" fill="#111"/>
<polygon points="85.1,280.6 85.5,281.3 84.8,281.5 84.5,281.0" fill="#111"/>
<polygon points="83.7,288.4 83.8,289.0 83.1,289.0 82.6,288.5 83.2,288.0" fill="#111"/>
<polygon points="93.2,267.4 93.2,268.2 92.3,268.2 92.2,267.4" fill="#111"/>
<polygon points="76.3,278.2 77.5,277.2 78.6,277.4 79.2,278.0 79.3,279.4 77.6,279.1" fill="#111"/>
<polygon points="78.8,294.6 79.8,293.8 80.8,294.2 80.1,295.3" fill="#111"/>
<polygon points="74.8,291.8 74.4,293.7 72.5,292.5 73.5,290.9" fill="#111"/>
<polygon points="86.6,277.9 85.5,277.7 85.6,276.8 86.5,276.9" fill="#111"/>
<polygon points="86.5,300.8 85.7,301.2 85.5,300.3 85.9,299.8 86.8,300.1" fill="#111"/>
<polygon points="80.9,257.3 81.1,257.6 81.2,258.3 80.4,258.6 80.0,257.8 80.4,257.3" fill="#111"/>
<polygon points="81.8,265.3 81.0,264.2 82.1,263.5 83.1,264.3 83.3,265.0 82.7,265.8" fill="#111"/>
<polygon points="74.9,263.7 75.2,264.7 73.9,264.9 73.0,264.3 73.0,263.1 74.2,263.1" fill="#111"/>
<polygon points="92.3,290.3 93.5,289.4 94.8,290.0 94.7,291.6 93.1,291.3" fill="#111"/>
<polygon points="97.2,286.2 97.9,286.4 97.6,287.3 96.7,286.9" fill="#111"/>
<polygon points="89.9,265.2 89.8,264.0 90.8,263.8 91.5,264.0 91.8,265.0 90.9,265.7" fill="#111"/>
<polygon points="90.7,271.1 91.7,272.2 90.8,273.9 89.3,273.0 89.6,271.7" fill="#111"/>
<polygon points="70.6,278.2 70.8,277.5 71.6,277.4 72.4,277.5 72.3,278.3 71.5,278.8" fill="#111"/>
<polygon points="73.0,283.1 71.6,283.5 70.8,282.2 72.6,281.3" fill="#111"/>
<polygon points="87.8,270.6 88.4,269.2 89.3,268.9 89.9,269.8 89.4,270.9" fill="#111"/>
<polygon points="73.0,291.9 72.5,291.1 73.1,290.0 73.8,291.2" fill="#111"/>
<polygon points="77.2,302.2 79.2,302.5 78.6,304.0 77.3,303.8" fill="#111"/>
<polygon points="76.4,268.3 76.3,269.1 75.5,269.0 75.7,268.4" fill="#111"/>
<polygon points="89.4,297.7 89.9,297.1 90.5,297.3 90.9,298.1 90.0,298.4" fill="#111"/>
<polygon points="98.0,286.3 98.6,286.6 98.3,287.4 97.7,287.1 97.3,286.5" fill="#111"/>
<polygon points="85.4,272.0 85.9,271.5 86.6,271.8 86.1,272.4" fill="#111"/>
<polygon points="74.3,311.1 73.9,309.5 76.2,309.4 75.7,310.8" fill="#111"/>
<polygon points="75.1,282.8 76.1,283.1 75.7,283.8 75.0,283.6" fill="#111"/>
<polygon points="82.8,307.0 81.8,308.0 80.4,306.9 82.0,305.7" fill="#111"/>
<polygon points="80.0,311.0 79.3,311.6 78.3,311.6 78.2,310.6 78.8,310.4 79.4,310.4" fill="#111"/>
<polygon points="84.7,275.9 85.5,275.6 86.1,276.0 86.0,276.9 85.1,276.6" fill="#111"/>
<polygon points="86.8,285.8 87.4,286.2 87.3,286.9 86.8,287.4 85.8,287.1 86.1,286.2" fill="#111"/>
<polygon points="68.8,311.8 69.8,310.1 71.3,311.1 70.7,312.3" fill="#111"/>
<polygon points="89.2,277.7 89.7,278.3 89.9,278.9 89.0,279.3 88.3,278.7 88.3,277.8" fill="#111"/>
<polygon points="90.8,302.0 91.6,300.5 93.2,301.4 93.2,302.8 91.5,303.1" fill="#111"/>
<polygon points="75.4,276.8 76.0,276.4 76.5,277.0 75.8,277.6" fill="#111"/>
<polygon points="71.8,258.2 71.2,258.7 70.8,258.3 71.1,257.8" fill="#111"/>
<polygon points="78.7,309.5 77.3,309.8 77.0,308.7 77.8,307.2 79.6,308.3" fill="#111"/>
<polygon points="93.8,268.0 93.3,267.8 93.4,267.2 93.9,267.1 94.5,267.3 94.3,267.9" fill="#111"/>
<polygon points="89.8,268.9 89.2,269.2 88.9,268.8 89.2,268.1 89.9,268.3" fill="#111"/>
<polygon points="85.2,272.2 84.8,271.7 85.3,271.3 85.9,271.2 86.3,271.8 85.9,272.2" fill="#111"/>
<polygon points="91.3,295.4 92.0,294.1 93.3,294.0 93.7,295.0 93.6,296.0 92.3,296.7" fill="#111"/>
<polygon points="90.9,280.0 91.6,280.1 91.4,280.7 90.7,280.7 90.6,280.3" fill="#111"/>
<polygon points="70.6,309.9 70.9,310.7 70.4,311.7 69.5,311.0 69.2,310.3 69.8,310.0" fill="#111"/>
<polygon points="78.3,278.9 78.6,277.6 80.1,277.0 81.5,278.5 79.9,280.3" fill="#111"/>
<polygon points="81.3,264.6 81.9,263.2 83.8,263.6 83.2,265.3 81.7,266.2" fill="#111"/>
<polygon points="72.2,272.1 73.0,271.9 72.9,272.6 72.0,272.9" fill="#111"/>
<polygon points="77.1,288.9 75.6,289.1 75.2,288.0 76.0,287.0 77.5,287.6" fill="#111"/>
<polygon points="76.5,272.4 76.9,273.1 76.5,274.0 75.6,273.6 75.2,272.8 75.9,272.5" fill="#111"/>
<polygon points="74.9,290.1 76.1,289.7 77.6,290.0 77.2,291.5 75.3,291.3" fill="#111"/>
<polygon points="69.6,258.8 69.3,259.3 68.7,259.0 68.8,258.6 69.2,258.5" fill="#111"/>
<polygon points="85.0,265.9 86.1,265.4 86.8,266.4 86.0,267.2 85.0,266.8" fill="#111"/>
<polygon points="73.1,255.2 73.0,253.4 75.1,253.9 75.1,255.9" fill="#111"/>
<polygon points="93.6,276.5 93.9,274.9 95.7,274.6 95.7,276.2" fill="#111"/>
<polygon points="75.4,265.2 74.0,265.4 73.0,264.5 73.5,263.3 74.7,263.5 76.0,264.0" fill="#111"/>
<polygon points="87.5,298.7 88.8,299.3 88.6,300.6 87.4,300.0" fill="#111"/>
<polygon points="88.2,287.4 89.1,287.9 89.5,288.8 88.6,289.9 87.1,289.4 87.2,288.0" fill="#111"/>
<polygon points="75.8,307.3 74.9,307.1 74.9,306.4 76.0,306.2" fill="#111"/>
<polygon points="74.7,310.3 75.4,309.7 76.8,310.1 76.0,311.4 74.5,311.5" fill="#111"/>
<polygon points="86.8,275.3 86.5,277.2 84.9,276.0 85.5,275.0" fill="#111"/>
<polygon points="82.0,300.3 82.3,299.2 83.3,299.9 83.3,300.8 82.3,301.2" fill="#111"/>
<polygon points="86.4,262.1 86.1,263.6 84.2,263.6 84.1,261.9 85.4,261.5" fill="#111"/>
<polygon points="87.9,302.9 87.8,303.7 86.8,304.0 86.7,302.9" fill="#111"/>
<polygon points="83.8,303.7 82.5,303.6 82.6,302.4 83.8,302.1 84.5,302.9" fill="#111"/>
<polygon points="74.2,280.9 75.7,280.3 75.9,281.8 74.9,282.4 73.9,281.9" fill="#111"/>
<polygon points="74.7,273.8 74.4,274.3 73.7,273.9 74.3,273.3" fill="#111"/>
<polygon points="75.1,265.9 74.2,265.4 75.2,264.8 75.8,265.5" fill="#111"/>
<polygon points="93.0,280.1 92.3,281.2 90.9,280.2 92.2,279.5" fill="#111"/>
<polygon points="97.5,283.2 98.6,282.9 99.6,283.6 98.7,284.2 97.8,284.3" fill="#111"/>
<polygon points="85.6,260.2 85.4,261.5 83.9,260.9 83.8,259.8 85.0,259.1" fill="#111"/>
<polygon points="87.9,293.2 88.3,291.8 89.5,291.9 89.5,292.8" fill="#111"/>
<polygon points="93.6,293.8 94.1,294.2 93.7,294.7 93.1,294.3" fill="#111"/>
<polygon points="80.9,260.6 81.3,259.4 82.5,260.0 82.9,261.0 81.6,261.4" fill="#111"/>
<polygon points="95.5,287.6 96.1,288.7 94.7,288.9 93.7,288.3 94.1,287.0" fill="#111"/>
<polygon points="86.1,277.5 86.7,277.7 86.7,278.1 86.4,278.4 85.8,278.1" fill="#111"/>
<polygon points="80.5,301.0 80.0,301.0 80.0,300.5 80.8,300.5" fill="#111"/>
<polygon points="75.0,266.9 77.4,266.4 77.7,267.8 76.3,268.7" fill="#111"/>
<polygon points="74.5,303.2 75.0,302.2 76.3,302.3 77.3,303.1 76.6,304.5 75.1,303.9" fill="#111"/>
<polygon points="84.8,284.7 83.5,283.7 84.1,282.5 85.5,282.1 86.3,283.7" fill="#111"/>
<line x1="56.1" y1="253.2" x2="56.1" y2="312.8" stroke="#111" stroke-width="1.8"/>
<line x1="69.2" y1="253.2" x2="69.2" y2="312.8" stroke="#111" stroke-width="1.9"/>
</g>
<circle cx="70" cy="283" r="29.8" fill="none" stroke="#111" stroke-width="1.8"/>
<clipPath id="clip228"><circle cx="228.3" cy="283" r="29.9"/></clipPath>
<circle cx="228.3" cy="283" r="29.9" fill="#fff"/>
<g clip-path="url(#clip228)">
<polygon points="206.4,285.9 206.3,286.1 206.0,286.1 206.0,285.8 206.1,285.6 206.3,285.7" fill="#ccc"/>
<polygon points="229.9,278.4 229.8,277.9 230.4,277.8 230.7,278.2 230.4,278.5" fill="#ccc"/>
<polygon points="248.9,267.4 249.1,267.0 249.5,267.3 249.6,267.7 249.3,267.9 248.9,267.7" fill="#ccc"/>
<polygon points="230.6,282.0 230.1,282.1 229.8,281.7 230.1,281.4 230.5,281.5 230.7,281.7" fill="#ccc"/>
<polygon points="250.4,275.6 250.4,275.4 250.8,275.4 250.7,275.7" fill="#ccc"/>
<polygon points="201.6,287.2 201.8,287.4 201.5,287.6 201.3,287.4" fill="#ccc"/>
<polygon points="226.2,273.5 226.5,273.7 226.3,274.1 226.0,273.8" fill="#ccc"/>
<polygon points="254.6,275.6 254.4,275.3 254.5,275.1 254.8,275.1 254.9,275.4" fill="#ccc"/>
<polygon points="239.9,263.3 240.1,263.4 240.2,263.6 240.2,263.9 239.8,263.8 239.8,263.6" fill="#ccc"/>
<polygon points="225.4,254.2 225.5,254.0 225.9,254.0 225.9,254.4 225.5,254.4" fill="#ccc"/>
<polygon points="246.4,278.9 246.0,279.2 245.8,278.8 246.1,278.7" fill="#ccc"/>
<polygon points="235.9,277.5 236.3,277.3 236.8,277.4 236.6,277.9 236.0,278.0" fill="#ccc"/>
<polygon points="238.9,269.4 238.9,269.8 238.4,270.1 238.2,269.7 238.4,269.1" fill="#ccc"/>
<polygon points="253.2,287.2 253.5,286.6 254.2,286.8 254.0,287.3" fill="#ccc"/>
<polygon points="215.8,292.8 215.8,293.0 215.7,293.2 215.5,293.1 215.4,292.9 215.6,292.7" fill="#ccc"/>
<polygon points="233.8,310.5 233.4,310.2 233.8,309.9 234.3,310.2" fill="#ccc"/>
<polygon points="227.8,309.3 228.0,309.0 228.2,309.0 228.2,309.3" fill="#ccc"/>
<polygon points="233.4,259.9 233.7,260.2 233.7,260.5 233.4,260.8 232.9,260.6 232.9,260.2" fill="#ccc"/>
<polygon points="225.0,284.3 224.9,284.7 224.5,284.5 224.4,284.1 224.8,283.9" fill="#ccc"/>
<polygon points="235.4,275.1 235.7,275.1 235.7,275.4 235.6,275.6 235.3,275.6 235.3,275.3" fill="#ccc"/>
<polygon points="219.4,305.6 219.4,305.9 219.0,305.8 219.1,305.4" fill="#ccc"/>
<polygon points="205.2,276.5 205.4,276.8 205.3,277.0 205.1,277.0 204.8,276.9 204.9,276.7" fill="#ccc"/>
<polygon points="250.5,291.2 250.8,291.1 251.0,291.3 250.8,291.5 250.3,291.5" fill="#ccc"/>
<polygon points="229.3,264.3 229.4,264.6 229.2,264.7 229.0,264.6 229.0,264.4" fill="#ccc"/>
<polygon points="217.4,302.8 217.5,302.5 217.9,302.4 218.2,302.7 218.0,303.1 217.7,303.0" fill="#ccc"/>
<polygon points="211.0,297.7 211.3,298.0 211.4,298.4 210.9,298.3 210.6,298.0" fill="#ccc"/>
<polygon points="226.0,279.1 225.6,279.3 225.4,278.9 225.8,278.8" fill="#ccc"/>
<polygon points="255.1,288.8 254.9,288.4 255.2,288.1 255.7,288.3 255.5,288.6" fill="#ccc"/>
<polygon points="228.1,270.9 228.3,270.5 228.8,270.8 228.8,271.3 228.2,271.2" fill="#ccc"/>
<polygon points="237.8,266.8 237.6,266.5 237.9,266.3 238.1,266.4 238.1,266.7" fill="#ccc"/>
<polygon points="252.8,298.3 253.0,298.3 253.3,298.5 253.1,298.7 252.9,298.7 252.6,298.5" fill="#ccc"/>
<polygon points="224.8,305.3 224.8,305.0 225.0,304.6 225.4,304.8 225.6,305.2 225.2,305.3" fill="#ccc"/>
<polygon points="232.7,298.3 232.8,298.0 233.0,297.7 233.4,297.9 233.5,298.2 233.2,298.3" fill="#ccc"/>
<polygon points="213.8,292.4 214.3,292.7 214.1,293.1 213.8,293.5 213.5,293.0 213.5,292.7" fill="#ccc"/>
<polygon points="210.1,262.1 209.7,262.0 209.4,261.8 209.7,261.4 210.0,261.7" fill="#ccc"/>
<polygon points="240.7,286.7 240.5,286.8 240.2,286.9 240.1,286.6 240.3,286.5 240.6,286.5" fill="#ccc"/>
<polygon points="205.0,275.1 205.0,274.9 205.4,274.9 205.2,275.2" fill="#ccc"/>
<polygon points="235.9,269.0 235.7,268.7 236.0,268.4 236.2,268.7 236.2,268.9" fill="#ccc"/>
<polygon points="249.3,274.2 248.9,274.4 248.7,274.2 248.7,274.0 248.8,273.7 249.2,273.7" fill="#ccc"/>
<polygon points="236.7,284.2 236.4,284.3 236.3,284.0 236.5,283.7 236.8,283.8" fill="#ccc"/>
<polygon points="210.0,285.3 210.6,285.6 210.4,286.0 209.9,285.9" fill="#ccc"/>
<polygon points="237.2,274.5 237.4,274.7 237.2,275.0 237.0,274.7" fill="#ccc"/>
<polygon points="199.4,282.1 199.8,282.1 199.7,282.4 199.5,282.6 199.4,282.4" fill="#ccc"/>
<polygon points="225.1,288.5 225.1,288.9 224.6,289.0 224.2,288.6 224.7,288.4" fill="#ccc"/>
<polygon points="239.4,269.2 239.3,269.4 239.0,269.4 238.7,269.1 239.2,269.0" fill="#ccc"/>
<polygon points="227.8,282.7 227.7,282.4 228.1,282.3 228.4,282.3 228.2,282.6 228.1,282.7" fill="#ccc"/>
<polygon points="229.5,261.5 229.4,261.3 229.7,261.1 229.9,261.4" fill="#ccc"/>
<polygon points="244.6,271.5 244.0,271.3 244.0,270.9 244.6,270.9" fill="#ccc"/>
<polygon points="242.6,279.2 242.9,279.3 242.9,279.6 242.6,279.7 242.4,279.6 242.4,279.4" fill="#ccc"/>
<polygon points="223.6,278.3 223.9,278.1 224.2,278.0 224.3,278.3 224.1,278.5 223.8,278.4" fill="#ccc"/>
<polygon points="232.4,262.3 232.3,262.2 232.3,262.0 232.5,262.0 232.8,262.1 232.6,262.3" fill="#ccc"/>
<polygon points="246.4,305.2 246.3,304.4 247.0,304.3 247.0,304.9" fill="#ccc"/>
<polygon points="225.5,288.0 225.0,288.1 224.7,287.9 224.8,287.5 225.2,287.4 225.4,287.7" fill="#ccc"/>
<polygon points="249.8,296.5 249.7,296.8 249.5,297.0 249.2,296.7 249.4,296.5 249.6,296.4" fill="#ccc"/>
<polygon points="236.1,306.8 236.0,307.2 235.6,307.3 235.3,306.9 235.6,306.6" fill="#ccc"/>
<polygon points="241.9,263.7 241.8,263.1 242.4,263.1 242.6,263.5 242.4,263.9" fill="#ccc"/>
<polygon points="221.6,269.3 221.4,269.5 221.0,269.5 221.0,269.2 221.4,269.0" fill="#ccc"/>
<polygon points="216.3,282.6 216.5,283.0 216.2,283.4 215.7,283.1 215.9,282.8" fill="#ccc"/>
<polygon points="236.7,304.8 236.5,305.0 236.2,305.0 236.2,304.8 236.4,304.6" fill="#ccc"/>
<polygon points="215.9,258.9 216.2,259.0 216.5,259.1 216.3,259.3 216.0,259.3 215.8,259.2" fill="#ccc"/>
<polygon points="207.9,291.2 207.6,290.8 207.8,290.5 208.1,290.4 208.4,290.7 208.2,290.9" fill="#ccc"/>
<polygon points="202.8,291.7 203.5,291.7 203.7,292.2 203.0,292.4" fill="#ccc"/>
<polygon points="223.1,262.7 222.7,262.6 222.7,262.3 223.0,262.1 223.4,262.3" fill="#ccc"/>
<polygon points="235.0,280.0 235.4,280.5 234.9,280.7 234.4,280.4" fill="#ccc"/>
<polygon points="223.1,285.2 223.0,285.4 222.8,285.5 222.7,285.3 222.6,285.1 222.9,285.0" fill="#ccc"/>
<polygon points="241.0,259.4 240.9,258.9 241.4,258.9 241.5,259.3" fill="#ccc"/>
<polygon points="210.6,271.1 211.3,271.1 211.1,271.7 210.3,271.6" fill="#444"/>
<polygon points="205.6,290.2 205.4,291.0 204.5,290.6 204.6,289.7" fill="#444"/>
<polygon points="222.0,306.8 221.4,307.8 220.3,307.5 219.8,306.5 220.9,306.4" fill="#222"/>
<polygon points="215.8,289.9 215.9,290.3 216.0,290.8 215.4,290.8 215.2,290.5 215.3,290.0" fill="#222"/>
<polygon points="226.6,291.9 226.9,291.6 227.4,291.8 227.0,292.3" fill="#222"/>
<polygon points="225.5,288.7 225.2,287.7 225.9,287.4 226.5,287.4 226.8,287.9 226.5,288.7" fill="#222"/>
<polygon points="216.8,266.6 216.4,266.4 216.7,266.0 217.2,266.1 217.3,266.5" fill="#222"/>
<polygon points="219.2,304.5 219.7,303.5 220.7,304.2 220.1,304.9" fill="#222"/>
<polygon points="217.0,298.3 216.6,296.7 218.2,295.8 218.4,297.7" fill="#222"/>
<polygon points="223.6,261.1 225.1,260.8 225.7,262.4 224.2,262.1" fill="#222"/>
<polygon points="226.2,284.9 226.9,283.9 227.7,284.8 227.8,285.9 226.4,286.2" fill="#222"/>
<polygon points="223.8,274.1 223.5,273.9 223.6,273.5 224.2,273.5 224.3,273.9" fill="#222"/>
<polygon points="230.8,258.0 230.9,256.8 232.4,256.8 232.8,258.1 231.6,258.8" fill="#333"/>
<polygon points="247.2,287.0 247.6,287.9 246.1,288.3 246.3,287.0" fill="#333"/>
<polygon points="246.1,278.5 246.3,278.9 245.7,279.1 245.5,278.5" fill="#333"/>
<polygon points="227.4,303.9 227.5,303.1 228.2,303.5 228.0,304.0" fill="#333"/>
<polygon points="237.6,271.5 238.0,272.1 237.2,272.7 236.9,271.9" fill="#333"/>
<polygon points="243.0,257.2 243.3,257.7 242.8,257.9 242.2,257.7 242.4,257.0" fill="#333"/>
<polygon points="229.7,289.6 229.0,288.5 230.6,287.9 230.8,289.4" fill="#333"/>
<polygon points="241.1,293.1 240.3,292.2 240.9,291.5 242.2,291.9" fill="#333"/>
<polygon points="241.5,277.4 241.3,276.8 242.1,276.4 242.9,276.9 242.7,277.7 241.9,277.8" fill="#333"/>
<polygon points="227.8,268.2 227.2,268.8 226.8,268.3 226.4,267.7 227.0,267.4 227.7,267.7" fill="#333"/>
<polygon points="248.1,290.5 247.5,290.9 246.9,290.8 246.6,290.2 247.1,289.8 247.6,290.0" fill="#333"/>
<polygon points="226.6,278.1 226.8,277.7 227.3,277.7 227.6,278.0 227.5,278.5 227.0,278.4" fill="#333"/>
<polygon points="246.6,293.4 247.4,293.9 247.2,294.9 246.4,294.8 245.9,294.4 245.9,293.8" fill="#333"/>
<polygon points="229.1,279.4 228.6,279.3 228.6,278.9 229.1,278.6 229.2,279.1" fill="#333"/>
<polygon points="240.0,267.1 239.3,267.3 238.3,267.0 238.9,266.1 240.2,266.0" fill="#333"/>
<polygon points="246.9,267.3 246.2,266.9 246.2,266.0 247.4,265.9 247.7,266.9" fill="#333"/>
<polygon points="233.6,270.3 234.6,270.5 235.6,270.9 234.7,271.5 234.0,271.8 233.6,271.2" fill="#333"/>
<polygon points="235.5,275.4 235.6,276.1 235.1,276.3 234.8,275.8" fill="#333"/>
<polygon points="246.7,292.4 246.6,293.6 245.6,293.0 245.5,292.2" fill="#333"/>
<line x1="214.2" y1="253.1" x2="214.2" y2="312.9" stroke="#111" stroke-width="1.8"/>
<line x1="227.3" y1="253.1" x2="227.3" y2="312.9" stroke="#111" stroke-width="1.8"/>
</g>
<circle cx="228.3" cy="283" r="29.9" fill="none" stroke="#111" stroke-width="1.8"/>
<clipPath id="clip383"><circle cx="383.2" cy="283" r="29.9"/></clipPath>
<circle cx="383.2" cy="283" r="29.9" fill="#fff"/>
<g clip-path="url(#clip383)">
<polygon points="372.1,289.8 372.5,289.7 372.9,289.9 372.8,290.3 372.4,290.3 372.2,290.2" fill="#ccc"/>
<polygon points="365.1,277.5 364.7,277.4 364.9,277.2 365.2,277.1 365.3,277.4" fill="#ccc"/>
<polygon points="399.0,265.9 398.6,265.7 398.8,265.4 399.4,265.5" fill="#ccc"/>
<polygon points="394.4,287.7 393.8,287.8 393.8,287.2 394.4,287.1" fill="#ccc"/>
<polygon points="363.2,293.7 363.2,294.0 362.9,294.3 362.5,294.0 362.5,293.6 362.9,293.4" fill="#ccc"/>
<polygon points="369.5,270.8 369.8,271.1 369.5,271.5 369.1,271.3 369.0,270.9" fill="#ccc"/>
<polygon points="359.1,282.2 359.3,281.9 359.7,282.0 359.5,282.2" fill="#ccc"/>
<polygon points="375.3,261.7 375.6,262.0 375.6,262.3 375.2,262.4 374.8,262.0" fill="#ccc"/>
<polygon points="388.3,310.5 388.6,310.7 388.4,311.1 387.9,311.1 387.7,310.7 387.9,310.4" fill="#ccc"/>
<polygon points="365.3,284.3 365.1,284.0 365.1,283.8 365.5,283.8 365.6,284.1" fill="#ccc"/>
<polygon points="374.5,302.1 374.5,301.7 374.8,301.5 375.1,301.7 374.9,302.0" fill="#ccc"/>
<polygon points="397.0,296.7 396.7,296.6 396.8,296.3 397.1,296.2 397.4,296.4 397.2,296.6" fill="#ccc"/>
<polygon points="366.0,299.8 366.2,300.2 365.8,300.4 365.5,300.3 365.5,299.9" fill="#ccc"/>
<polygon points="384.1,311.2 383.6,311.2 383.6,310.8 383.9,310.5 384.3,310.9" fill="#ccc"/>
<polygon points="363.0,297.4 362.7,297.6 362.6,297.3 362.8,297.2" fill="#ccc"/>
<polygon points="386.0,258.8 386.2,259.0 385.9,259.2 385.5,259.1 385.7,258.8" fill="#ccc"/>
<polygon points="374.9,290.5 374.7,290.8 374.4,290.7 374.1,290.4 374.6,290.1" fill="#ccc"/>
<polygon points="363.9,287.5 363.5,287.7 363.5,287.3 363.9,287.2" fill="#ccc"/>
<polygon points="397.8,270.3 398.2,270.0 398.6,270.2 398.4,270.6 397.9,270.8" fill="#ccc"/>
<polygon points="391.7,263.8 392.0,263.6 392.3,263.9 392.1,264.4 391.8,264.1" fill="#ccc"/>
<polygon points="405.7,276.4 405.4,275.8 406.1,275.9 406.3,276.3" fill="#ccc"/>
<polygon points="405.2,293.9 405.0,293.8 405.1,293.4 405.4,293.6 405.6,293.8" fill="#ccc"/>
<polygon points="392.7,282.2 392.7,282.5 392.4,282.8 392.2,282.4 392.2,282.2 392.4,282.0" fill="#ccc"/>
<polygon points="396.1,288.9 395.8,289.0 395.5,289.0 395.5,288.7 395.7,288.5 396.1,288.4" fill="#ccc"/>
<polygon points="378.1,293.3 378.3,293.2 378.4,293.5 378.2,293.6 378.0,293.6 377.9,293.4" fill="#ccc"/>
<polygon points="355.8,292.1 356.2,292.4 355.8,292.6 355.4,292.3" fill="#ccc"/>
<polygon points="408.0,282.8 407.6,282.6 407.8,282.4 408.1,282.3 408.3,282.5 408.2,282.7" fill="#ccc"/>
<polygon points="406.0,291.2 406.4,291.0 406.7,291.1 406.4,291.4" fill="#ccc"/>
<polygon points="364.1,294.9 363.8,294.7 364.1,294.5 364.4,294.5 364.4,294.8" fill="#ccc"/>
<polygon points="384.2,257.2 384.4,257.5 384.0,257.7 383.7,257.5 383.8,257.1" fill="#ccc"/>
<polygon points="368.6,277.4 368.8,277.7 368.5,277.9 368.3,277.6" fill="#ccc"/>
<polygon points="357.0,293.3 356.8,293.6 356.4,293.4 356.5,293.1 356.7,292.9 357.1,293.0" fill="#ccc"/>
<polygon points="406.3,296.4 405.7,296.4 405.4,296.0 406.0,295.7" fill="#ccc"/>
<polygon points="400.2,291.8 400.5,291.4 400.8,291.8 400.5,292.1" fill="#ccc"/>
<polygon points="384.5,283.8 384.7,284.1 384.4,284.4 384.1,284.2 384.2,284.0" fill="#ccc"/>
<polygon points="372.4,304.5 372.7,304.1 373.2,304.2 373.4,304.7 372.8,304.7" fill="#ccc"/>
<polygon points="407.1,286.2 406.9,285.9 406.8,285.5 407.2,285.5 407.7,285.7 407.6,286.1" fill="#ccc"/>
<polygon points="392.9,262.0 392.5,262.1 392.3,261.8 392.6,261.5 392.9,261.6" fill="#ccc"/>
<polygon points="365.0,274.3 364.6,274.0 364.6,273.7 364.9,273.6 365.1,273.8" fill="#ccc"/>
<polygon points="388.3,274.4 388.4,274.0 388.8,273.8 388.9,274.3 388.7,274.7" fill="#ccc"/>
<polygon points="381.5,295.1 381.1,295.5 380.8,295.0 381.0,294.6 381.7,294.7" fill="#ccc"/>
<polygon points="357.4,277.3 357.4,277.0 357.5,276.8 357.7,276.9 357.8,277.2" fill="#ccc"/>
<polygon points="363.7,278.9 363.2,279.4 362.7,279.0 363.1,278.6" fill="#ccc"/>
<polygon points="387.9,305.4 388.2,305.2 388.4,305.5 388.2,305.7 387.9,305.8 387.8,305.5" fill="#ccc"/>
<polygon points="365.9,261.3 366.2,261.0 366.5,261.2 366.6,261.5 366.3,261.7 365.9,261.6" fill="#ccc"/>
<polygon points="392.8,298.6 393.3,298.3 393.6,298.8 393.0,298.9" fill="#ccc"/>
<polygon points="392.5,289.9 392.4,289.4 392.9,289.2 393.4,289.6 393.1,290.0 392.8,290.2" fill="#ccc"/>
<polygon points="355.3,280.1 355.7,280.1 355.9,280.4 355.7,280.7 355.3,280.5" fill="#ccc"/>
<polygon points="410.5,273.4 410.6,272.9 411.1,272.9 411.4,273.3 411.3,273.7 410.7,273.7" fill="#ccc"/>
<polygon points="389.3,258.5 389.2,258.8 389.0,258.8 388.8,258.7 388.7,258.4 389.0,258.3" fill="#ccc"/>
<polygon points="359.0,282.3 358.7,282.4 358.4,282.2 358.4,281.9 358.7,281.9 359.0,281.9" fill="#ccc"/>
<polygon points="380.8,271.2 380.5,271.5 379.9,271.5 380.0,270.9 380.5,270.8" fill="#ccc"/>
<polygon points="370.7,263.4 370.2,263.1 370.5,262.7 371.0,262.9" fill="#ccc"/>
<polygon points="408.4,279.8 408.1,280.0 407.9,279.8 407.9,279.5 408.2,279.4 408.4,279.6" fill="#ccc"/>
<polygon points="398.3,262.5 398.0,262.0 398.5,261.8 398.7,262.2" fill="#ccc"/>
<polygon points="381.5,284.9 381.9,284.4 382.4,284.8 382.0,285.2" fill="#ccc"/>
<polygon points="395.7,256.5 395.6,256.7 395.3,256.6 395.3,256.3 395.6,256.2" fill="#ccc"/>
<polygon points="387.7,284.8 387.4,284.7 387.2,284.6 387.4,284.4 387.7,284.5" fill="#ccc"/>
<polygon points="410.6,288.8 410.2,288.8 409.9,288.4 410.4,288.2 410.8,288.4" fill="#ccc"/>
<polygon points="357.4,283.4 357.6,283.4 357.8,283.7 357.6,283.9 357.2,283.9 357.1,283.5" fill="#ccc"/>
<polygon points="381.5,298.5 381.8,298.3 382.1,298.5 382.0,298.9 381.6,299.0 381.3,298.8" fill="#ccc"/>
<polygon points="381.0,306.8 381.5,306.7 381.8,307.0 381.6,307.4 381.0,307.4" fill="#ccc"/>
<polygon points="394.5,283.6 394.9,283.3 395.2,283.4 395.4,283.6 395.1,283.9 394.8,283.8" fill="#ccc"/>
<polygon points="384.8,279.0 384.6,279.2 384.4,279.3 384.0,279.2 384.1,278.8 384.5,278.8" fill="#ccc"/>
<polygon points="357.8,284.3 358.0,284.7 357.7,284.9 357.5,284.6" fill="#666"/>
<polygon points="356.9,281.7 356.4,281.7 356.4,281.3 356.8,281.3" fill="#666"/>
<polygon points="360.4,288.7 361.0,288.7 360.9,289.2 360.7,289.6 360.2,289.3" fill="#666"/>
<polygon points="357.1,274.9 357.6,274.9 357.8,275.4 357.2,275.7 356.6,275.3" fill="#666"/>
<polygon points="367.4,260.6 367.0,260.8 366.6,260.9 366.5,260.7 366.5,260.3 366.9,260.4" fill="#666"/>
<polygon points="365.4,303.8 364.9,303.8 364.7,303.5 364.9,303.0 365.5,303.3" fill="#666"/>
<polygon points="363.9,270.8 364.0,270.3 364.6,270.5 364.8,271.1 364.2,271.2" fill="#666"/>
<polygon points="360.5,298.8 360.0,298.5 359.9,298.0 360.6,297.8 360.9,298.3" fill="#666"/>
<polygon points="366.6,297.9 366.3,297.4 366.9,297.2 367.4,297.5 367.1,298.0" fill="#555"/>
<polygon points="366.6,305.1 367.1,305.3 367.3,305.9 366.6,306.0 366.3,305.6" fill="#555"/>
<polygon points="367.0,282.8 367.0,282.4 367.3,282.0 367.9,282.3 367.7,282.8 367.3,283.0" fill="#555"/>
<polygon points="367.5,285.6 367.6,286.0 367.3,286.2 367.0,286.0 367.2,285.7" fill="#555"/>
<polygon points="366.3,304.3 365.6,304.1 365.9,303.4 366.5,303.8" fill="#555"/>
<polygon points="367.5,259.6 367.3,259.1 367.3,258.7 367.8,258.4 368.2,258.8 368.0,259.3" fill="#555"/>
<polygon points="366.2,300.0 365.8,299.6 366.0,299.3 366.3,299.1 366.8,299.2 366.6,299.6" fill="#555"/>
<polygon points="367.7,283.9 367.5,284.3 367.1,284.2 366.7,283.8 367.3,283.5" fill="#555"/>
<polygon points="375.3,258.0 375.7,258.3 375.1,258.6 374.9,258.2" fill="#777"/>
<polygon points="373.1,306.1 373.6,305.6 374.1,306.1 374.0,306.5 373.7,306.9 373.3,306.6" fill="#777"/>
<polygon points="378.6,291.8 378.2,291.2 378.9,290.9 379.2,291.5" fill="#777"/>
<polygon points="381.2,288.1 381.0,288.6 380.7,288.9 380.0,289.0 380.0,288.2 380.5,287.9" fill="#777"/>
<polygon points="368.2,278.0 368.1,278.4 367.8,278.2 367.9,278.0" fill="#777"/>
<polygon points="368.3,287.5 368.9,287.4 369.0,288.0 368.2,288.2" fill="#777"/>
<polygon points="408.8,295.6 408.7,295.2 409.1,294.9 409.7,294.9 409.8,295.5 409.4,295.8" fill="#333"/>
<polygon points="408.5,297.5 407.9,297.5 407.8,297.0 408.3,297.1" fill="#333"/>
<polygon points="405.4,277.5 404.7,277.2 404.3,276.4 405.2,276.3 405.8,276.7" fill="#333"/>
<polygon points="405.3,270.3 405.1,269.6 405.7,269.3 406.0,269.7 405.9,270.2" fill="#333"/>
<polygon points="405.3,290.7 405.9,291.0 405.8,291.5 405.0,291.7 404.6,291.0" fill="#333"/>
<polygon points="407.8,297.8 408.5,298.0 408.4,298.5 407.9,298.6 407.4,298.2" fill="#333"/>
<polygon points="405.9,291.0 407.3,290.3 408.0,291.4 406.7,291.9" fill="#333"/>
<polygon points="405.9,266.8 406.5,266.5 407.1,266.5 407.2,267.3 406.5,267.3" fill="#333"/>
<polygon points="405.3,297.6 406.3,297.8 406.3,298.5 405.4,298.6" fill="#333"/>
<polygon points="410.0,273.6 409.4,272.4 410.9,271.6 411.0,273.0" fill="#333"/>
<polygon points="407.6,297.3 406.7,297.9 406.8,296.9 407.6,296.5" fill="#333"/>
<line x1="368.4" y1="253.1" x2="368.4" y2="312.9" stroke="#111" stroke-width="1.6"/>
<line x1="382.3" y1="253.1" x2="382.3" y2="312.9" stroke="#111" stroke-width="2.0"/>
<circle cx="381.9" cy="255.1" r="1.37" fill="#111"/>
<circle cx="381.9" cy="257.7" r="1.34" fill="#111"/>
<circle cx="382.4" cy="259.5" r="0.99" fill="#111"/>
<circle cx="381.9" cy="261.4" r="1.03" fill="#111"/>
<circle cx="382.6" cy="263.3" r="1.15" fill="#111"/>
<circle cx="382.6" cy="265.9" r="1.07" fill="#111"/>
<circle cx="382.2" cy="267.9" r="1.17" fill="#111"/>
<circle cx="381.9" cy="270.3" r="1.25" fill="#111"/>
<circle cx="382.1" cy="272.5" r="0.93" fill="#111"/>
<circle cx="382.0" cy="274.6" r="1.18" fill="#111"/>
<circle cx="382.3" cy="276.6" r="0.90" fill="#111"/>
<circle cx="382.3" cy="278.5" r="1.07" fill="#111"/>
<circle cx="382.4" cy="280.6" r="1.28" fill="#111"/>
<circle cx="382.1" cy="282.8" r="1.26" fill="#111"/>
<circle cx="382.2" cy="284.8" r="0.93" fill="#111"/>
<circle cx="382.5" cy="286.9" r="1.23" fill="#111"/>
<circle cx="382.0" cy="288.9" r="1.04" fill="#111"/>
<circle cx="382.3" cy="290.8" r="0.93" fill="#111"/>
<circle cx="382.4" cy="293.2" r="1.26" fill="#111"/>
<circle cx="382.3" cy="295.8" r="0.97" fill="#111"/>
<circle cx="382.4" cy="298.3" r="1.23" fill="#111"/>
<circle cx="382.3" cy="300.3" r="0.95" fill="#111"/>
<circle cx="382.3" cy="302.7" r="1.36" fill="#111"/>
<circle cx="382.6" cy="304.5" r="1.12" fill="#111"/>
<circle cx="382.7" cy="306.5" r="1.02" fill="#111"/>
<circle cx="382.0" cy="308.5" r="1.38" fill="#111"/>
<circle cx="382.3" cy="310.6" r="1.14" fill="#111"/>
</g>
<circle cx="383.2" cy="283" r="29.9" fill="none" stroke="#111" stroke-width="1.8"/>
<clipPath id="clip535"><circle cx="535.3" cy="283" r="29.9"/></clipPath>
<circle cx="535.3" cy="283" r="29.9" fill="#fff"/>
<g clip-path="url(#clip535)">
<polygon points="552.5,276.9 552.9,276.5 553.4,276.9 553.3,277.3 552.7,277.4" fill="#ccc"/>
<polygon points="528.6,284.7 528.4,284.2 529.1,284.1 529.2,284.6" fill="#ccc"/>
<polygon points="543.6,276.2 543.6,275.8 544.0,275.7 544.5,275.9 544.1,276.4" fill="#ccc"/>
<polygon points="523.1,265.4 522.8,265.8 522.4,265.5 522.4,265.1 523.0,265.0" fill="#ccc"/>
<polygon points="542.7,258.0 543.0,257.8 543.3,258.0 543.2,258.3 542.8,258.5" fill="#ccc"/>
<polygon points="533.2,266.2 533.0,265.9 533.1,265.6 533.5,265.6 533.5,265.9" fill="#ccc"/>
<polygon points="532.0,269.9 532.5,269.9 532.3,270.3 531.7,270.3" fill="#ccc"/>
<polygon points="508.9,294.5 509.4,294.7 509.9,295.0 509.5,295.3 508.9,295.1" fill="#ccc"/>
<polygon points="549.9,300.8 549.7,300.6 550.0,300.4 550.2,300.7" fill="#ccc"/>
<polygon points="517.0,296.4 516.8,295.9 517.1,295.6 517.5,295.7 517.5,296.2" fill="#ccc"/>
<polygon points="563.0,285.1 563.0,284.8 563.3,284.7 563.5,285.1" fill="#ccc"/>
<polygon points="525.7,300.8 526.0,300.9 525.9,301.2 525.7,301.4 525.5,301.2 525.5,300.9" fill="#ccc"/>
<polygon points="527.7,307.1 527.7,306.6 528.4,306.5 528.2,307.1" fill="#ccc"/>
<polygon points="548.9,295.9 549.2,295.8 549.5,296.1 549.2,296.6 548.7,296.3" fill="#ccc"/>
<polygon points="534.7,267.6 534.2,267.4 534.7,267.0 535.0,267.3" fill="#ccc"/>
<polygon points="556.5,288.4 556.2,288.0 556.7,287.6 557.0,288.2" fill="#ccc"/>
<polygon points="528.9,296.2 529.1,296.6 529.0,296.9 528.6,296.7 528.5,296.3" fill="#ccc"/>
<polygon points="552.9,298.6 553.1,298.7 553.3,298.8 553.2,298.9 553.0,299.0 552.7,298.8" fill="#ccc"/>
<polygon points="550.1,297.8 550.4,297.7 550.6,298.1 550.1,298.2" fill="#ccc"/>
<polygon points="539.8,274.1 540.1,273.9 540.4,274.2 540.1,274.5 539.8,274.3" fill="#ccc"/>
<polygon points="511.6,269.3 511.3,269.4 511.1,269.1 511.4,268.9 511.7,268.8 511.7,269.1" fill="#ccc"/>
<polygon points="547.5,262.5 547.2,262.9 546.7,262.9 547.0,262.5" fill="#ccc"/>
<polygon points="559.2,287.0 559.1,286.7 559.4,286.4 559.7,286.7 559.6,287.1" fill="#ccc"/>
<polygon points="511.8,282.0 512.1,281.9 512.4,282.1 512.3,282.4 511.9,282.5 511.7,282.3" fill="#ccc"/>
<polygon points="534.8,300.0 534.5,299.9 534.6,299.5 535.0,299.5 535.2,299.7 535.1,300.0" fill="#ccc"/>
<polygon points="549.3,282.5 549.1,283.0 548.5,282.7 548.9,282.3" fill="#ccc"/>
<polygon points="511.5,289.8 511.2,289.8 511.0,289.7 510.9,289.4 511.2,289.4 511.5,289.5" fill="#ccc"/>
<polygon points="512.3,288.9 512.8,288.9 512.8,289.2 512.5,289.2" fill="#ccc"/>
<polygon points="515.2,285.4 515.6,285.1 515.8,285.3 516.0,285.7 515.5,285.7" fill="#ccc"/>
<polygon points="542.7,308.0 543.5,308.1 543.3,308.9 542.5,308.8" fill="#ccc"/>
<polygon points="531.9,283.8 531.6,284.2 531.3,283.8 531.3,283.4 531.8,283.5" fill="#ccc"/>
<polygon points="549.9,270.3 550.2,269.8 550.6,269.9 550.6,270.4" fill="#ccc"/>
<polygon points="555.8,279.1 555.4,278.9 555.5,278.4 556.0,278.3 556.2,278.6 556.2,279.0" fill="#ccc"/>
<polygon points="556.6,271.9 556.3,272.1 555.9,271.9 556.2,271.6" fill="#ccc"/>
<polygon points="546.6,291.5 547.3,291.4 547.1,292.0 546.6,292.1" fill="#ccc"/>
<polygon points="534.8,282.7 535.2,283.2 534.8,283.5 534.2,283.6 534.4,283.1" fill="#ccc"/>
<polygon points="529.0,302.7 529.2,302.6 529.5,302.6 529.5,302.9 529.4,303.0 529.1,303.0" fill="#ccc"/>
<polygon points="553.8,281.2 554.3,281.1 554.1,281.6 553.8,281.7 553.6,281.4" fill="#ccc"/>
<polygon points="511.6,290.5 512.0,290.9 511.5,291.2 511.1,290.8" fill="#ccc"/>
<polygon points="528.4,304.6 528.6,304.3 529.0,304.3 529.1,304.6 528.9,304.8 528.5,304.9" fill="#ccc"/>
<polygon points="524.7,257.7 524.5,257.9 524.2,258.0 524.0,257.7 524.2,257.4 524.5,257.4" fill="#ccc"/>
<polygon points="510.2,271.7 510.2,271.0 510.9,270.9 510.9,271.5" fill="#777"/>
<polygon points="510.6,284.3 510.7,285.2 509.4,285.5 509.3,284.0" fill="#777"/>
<polygon points="506.5,288.7 507.1,288.8 507.4,289.3 507.0,289.8 506.4,289.6 506.3,289.1" fill="#777"/>
<polygon points="512.9,278.5 513.6,277.6 514.7,277.5 514.2,278.7" fill="#777"/>
<polygon points="512.1,294.4 511.4,293.9 512.3,293.3 513.2,293.6 513.1,294.8" fill="#777"/>
<polygon points="527.5,277.9 526.1,277.1 527.0,275.6 528.6,276.1 528.6,277.4" fill="#222"/>
<polygon points="525.8,280.0 525.1,280.5 524.2,280.0 524.5,279.2 525.2,278.7 525.8,279.3" fill="#222"/>
<polygon points="527.3,298.6 526.1,298.6 525.8,297.5 526.9,297.2 527.5,297.9" fill="#222"/>
<polygon points="526.2,255.6 527.2,254.9 528.6,255.7 527.8,256.9 526.4,256.8" fill="#222"/>
<polygon points="527.9,272.7 526.5,272.8 526.0,271.8 527.2,271.7" fill="#222"/>
<polygon points="520.7,293.5 521.2,292.5 522.4,292.3 522.8,293.1 522.9,294.2 521.5,294.5" fill="#222"/>
<polygon points="517.8,301.8 517.7,300.9 518.8,300.7 519.9,300.9 519.4,302.0 518.5,302.2" fill="#222"/>
<polygon points="518.7,260.0 518.7,259.1 519.3,258.4 520.7,258.5 520.4,259.6 519.8,260.3" fill="#222"/>
<polygon points="527.5,258.4 528.0,259.0 527.5,259.6 526.7,259.8 526.1,259.2 526.3,258.4" fill="#222"/>
<polygon points="525.0,261.3 525.7,259.9 527.3,260.2 526.8,261.7" fill="#222"/>
<polygon points="542.4,281.6 542.2,280.8 542.7,280.1 543.8,280.2 543.8,281.1 543.4,282.1" fill="#777"/>
<polygon points="558.6,287.5 557.4,287.4 557.1,286.6 558.2,286.3" fill="#777"/>
<polygon points="546.3,294.0 545.2,294.5 544.1,293.9 544.7,293.1 545.8,292.9" fill="#777"/>
<polygon points="551.8,307.3 550.5,307.3 550.4,305.9 551.8,306.2" fill="#777"/>
<polygon points="547.8,296.0 546.9,295.6 547.1,295.0 547.6,294.6 548.1,294.8 548.3,295.4" fill="#777"/>
<polygon points="558.1,301.0 557.6,301.3 557.0,301.0 556.8,300.5 557.3,299.9 557.8,300.4" fill="#777"/>
<polygon points="534.5,264.3 533.5,264.3 533.3,263.5 533.8,263.0 534.7,263.3" fill="#777"/>
<polygon points="537.0,310.7 536.9,311.7 535.6,312.3 535.8,311.0" fill="#777"/>
<polygon points="558.1,296.6 558.5,297.1 557.8,297.5 556.8,297.5 556.7,296.6 557.5,296.3" fill="#777"/>
<polygon points="535.9,295.0 536.3,296.2 535.2,296.5 534.5,295.5" fill="#777"/>
<polygon points="549.5,280.7 548.4,281.3 547.4,280.6 547.7,279.6 549.1,279.2" fill="#777"/>
<polygon points="541.3,280.0 540.5,278.9 541.8,278.2 542.4,279.2" fill="#777"/>
<polygon points="538.8,254.3 538.3,255.1 537.6,255.4 536.7,255.0 537.2,254.1 538.0,253.6" fill="#777"/>
<polygon points="550.5,269.4 550.6,268.7 551.2,268.1 551.9,268.7 551.8,269.4 551.1,269.8" fill="#777"/>
<polygon points="550.2,296.1 550.6,296.7 550.0,297.3 548.9,297.3 549.1,296.4 549.4,295.7" fill="#777"/>
<polygon points="555.5,279.3 555.7,280.2 554.9,280.7 553.8,280.2 554.5,279.1" fill="#777"/>
<line x1="516.4" y1="253.1" x2="516.4" y2="312.9" stroke="#111" stroke-width="1.4"/>
<circle cx="516.4" cy="255.1" r="1.33" fill="#111"/>
<circle cx="517.0" cy="259.6" r="1.49" fill="#111"/>
<circle cx="516.5" cy="264.3" r="1.14" fill="#111"/>
<circle cx="517.0" cy="269.0" r="1.20" fill="#111"/>
<circle cx="516.1" cy="273.9" r="1.39" fill="#111"/>
<circle cx="516.5" cy="278.2" r="1.41" fill="#111"/>
<circle cx="516.9" cy="282.3" r="1.31" fill="#111"/>
<circle cx="516.1" cy="286.6" r="1.32" fill="#111"/>
<circle cx="515.9" cy="291.5" r="1.13" fill="#111"/>
<circle cx="516.6" cy="295.7" r="1.26" fill="#111"/>
<circle cx="516.7" cy="300.6" r="1.25" fill="#111"/>
<circle cx="515.9" cy="305.4" r="1.34" fill="#111"/>
<circle cx="516.0" cy="310.1" r="1.37" fill="#111"/>
<line x1="529.8" y1="253.1" x2="529.8" y2="312.9" stroke="#111" stroke-width="1.4"/>
<circle cx="530.5" cy="255.1" r="1.32" fill="#111"/>
<circle cx="530.0" cy="260.2" r="1.19" fill="#111"/>
<circle cx="530.0" cy="265.1" r="1.25" fill="#111"/>
<circle cx="530.2" cy="269.9" r="1.37" fill="#111"/>
<circle cx="530.5" cy="274.2" r="1.46" fill="#111"/>
<circle cx="530.4" cy="278.7" r="1.50" fill="#111"/>
<circle cx="529.4" cy="283.1" r="1.20" fill="#111"/>
<circle cx="529.3" cy="287.7" r="1.19" fill="#111"/>
<circle cx="529.1" cy="292.6" r="1.34" fill="#111"/>
<circle cx="530.1" cy="297.1" r="1.20" fill="#111"/>
<circle cx="529.4" cy="301.6" r="1.11" fill="#111"/>
<circle cx="529.6" cy="306.7" r="1.22" fill="#111"/>
<circle cx="529.6" cy="311.8" r="1.32" fill="#111"/>
</g>
<circle cx="535.3" cy="283" r="29.9" fill="none" stroke="#111" stroke-width="1.5"/>
<clipPath id="clip693"><circle cx="693.2" cy="283" r="30.0"/></clipPath>
<circle cx="693.2" cy="283" r="30.0" fill="#fff"/>
<g clip-path="url(#clip693)">
<polygon points="687.8,305.4 687.8,305.7 687.4,305.9 687.0,305.5 687.4,305.1" fill="#ccc"/>
<polygon points="670.7,299.3 670.9,299.5 670.6,299.8 670.4,299.5" fill="#ccc"/>
<polygon points="678.3,262.6 678.7,262.5 679.0,262.9 678.5,263.0 678.0,262.9" fill="#ccc"/>
<polygon points="689.0,297.8 688.6,297.5 689.1,297.2 689.4,297.5" fill="#ccc"/>
<polygon points="681.3,267.5 681.5,267.5 681.5,267.7 681.3,267.9 681.1,267.8 681.0,267.6" fill="#ccc"/>
<polygon points="703.3,276.4 703.6,276.6 703.7,276.9 703.4,277.0 703.1,276.9 703.1,276.7" fill="#ccc"/>
<polygon points="671.1,286.1 670.8,285.8 670.9,285.5 671.2,285.5 671.5,285.7 671.4,286.0" fill="#ccc"/>
<polygon points="719.3,278.3 719.1,278.0 719.5,278.0 719.9,278.1 719.7,278.6" fill="#ccc"/>
<polygon points="670.7,284.0 670.7,284.5 670.1,284.5 670.1,283.9" fill="#ccc"/>
<polygon points="683.0,300.5 683.0,300.1 683.3,299.9 683.6,300.0 683.7,300.3 683.4,300.6" fill="#ccc"/>
<polygon points="669.6,288.8 669.3,289.0 669.1,288.9 669.0,288.6 669.3,288.5 669.5,288.5" fill="#ccc"/>
<polygon points="703.7,280.3 703.7,279.8 704.0,279.5 704.3,279.8 704.2,280.2" fill="#ccc"/>
<polygon points="688.7,279.8 689.0,279.6 689.1,279.9 689.0,280.1 688.7,280.0" fill="#ccc"/>
<polygon points="716.7,283.9 716.8,284.3 716.6,284.5 716.1,284.4 716.3,284.0" fill="#ccc"/>
<polygon points="700.7,285.3 700.6,285.7 700.2,285.6 700.1,285.3 700.4,285.2" fill="#ccc"/>
<polygon points="686.1,305.9 685.9,305.8 685.9,305.6 686.0,305.4 686.2,305.5 686.3,305.7" fill="#ccc"/>
<polygon points="666.6,278.5 666.3,278.6 666.1,278.4 666.0,278.1 666.4,278.0 666.7,278.2" fill="#ccc"/>
<polygon points="694.3,283.6 694.6,283.7 694.5,284.0 694.2,283.8" fill="#ccc"/>
<polygon points="700.5,305.7 700.8,306.0 700.5,306.3 700.0,306.0" fill="#ccc"/>
<polygon points="687.8,278.9 687.5,279.2 687.1,279.0 687.4,278.6" fill="#ccc"/>
<polygon points="678.4,306.3 678.6,305.9 679.1,306.2 678.8,306.6 678.5,306.5" fill="#ccc"/>
<polygon points="683.0,299.3 682.8,298.8 683.4,298.7 683.5,299.2" fill="#ccc"/>
<polygon points="702.8,289.4 702.8,288.8 703.2,288.6 703.7,288.9 703.3,289.3" fill="#ccc"/>
<polygon points="696.9,257.9 697.1,258.2 697.2,258.5 696.8,258.6 696.5,258.4 696.4,258.0" fill="#ccc"/>
<polygon points="697.2,294.6 697.5,294.7 697.8,294.8 697.6,295.1 697.3,295.1 697.1,294.9" fill="#ccc"/>
<polygon points="706.0,258.1 705.9,258.3 705.7,258.4 705.4,258.2 705.6,257.9" fill="#ccc"/>
<polygon points="693.4,292.8 693.8,292.7 693.9,293.0 693.5,293.1" fill="#ccc"/>
<polygon points="671.2,290.7 671.0,290.9 670.6,290.9 670.8,290.3" fill="#ccc"/>
<polygon points="692.6,292.9 692.1,293.1 691.7,292.6 692.3,292.2 692.8,292.4" fill="#ccc"/>
<polygon points="693.7,271.9 693.9,272.0 694.0,272.2 693.9,272.4 693.7,272.4 693.5,272.1" fill="#ccc"/>
<polygon points="710.4,264.5 710.7,264.8 710.2,265.0 709.9,264.6" fill="#ccc"/>
<polygon points="697.7,284.7 697.3,284.9 697.1,284.6 697.5,284.4" fill="#ccc"/>
<polygon points="674.5,301.4 674.8,301.5 674.9,301.8 674.6,302.1 674.1,301.9 674.0,301.5" fill="#ccc"/>
<polygon points="711.6,289.6 711.3,289.4 711.3,289.0 711.8,288.8 712.0,289.2 712.0,289.5" fill="#ccc"/>
<polygon points="710.6,299.2 710.8,299.4 710.6,299.7 710.4,299.4" fill="#ccc"/>
<polygon points="717.5,269.8 717.2,269.5 717.6,269.2 717.9,269.5 718.0,269.7 717.8,269.9" fill="#ccc"/>
<polygon points="701.0,305.3 701.4,305.2 701.8,305.4 701.4,305.7 701.0,305.7" fill="#ccc"/>
<polygon points="685.6,277.6 685.4,277.2 685.7,276.9 686.2,276.8 686.4,277.2 686.1,277.4" fill="#ccc"/>
<polygon points="669.6,273.6 668.9,273.0 668.5,272.1 669.7,271.9 670.1,272.7" fill="#888"/>
<polygon points="670.2,282.2 670.0,281.7 670.8,281.3 671.7,281.8 671.3,282.6 670.5,282.9" fill="#888"/>
<polygon points="668.5,275.7 667.8,274.7 668.4,274.1 669.4,274.6" fill="#888"/>
<polygon points="694.6,301.4 695.1,301.0 695.8,301.3 696.2,301.9 695.5,302.2 694.9,301.9" fill="#777"/>
<polygon points="707.5,299.5 706.8,298.9 707.1,297.8 708.1,298.3 708.7,299.3" fill="#777"/>
<polygon points="703.0,302.9 701.8,304.0 701.2,302.8 701.9,302.1" fill="#777"/>
<polygon points="708.9,305.5 709.7,304.5 710.4,305.4 709.7,306.3" fill="#777"/>
<polygon points="693.2,272.1 691.9,272.3 691.6,271.2 692.5,270.1 693.8,271.0" fill="#777"/>
<polygon points="722.1,283.2 721.4,283.8 720.4,283.3 720.9,282.3 722.1,282.4" fill="#777"/>
<polygon points="709.3,264.1 709.3,264.8 708.1,265.2 707.7,264.2 708.5,263.4" fill="#777"/>
<line x1="674.3" y1="253.0" x2="674.3" y2="313.0" stroke="#111" stroke-width="1.4"/>
<circle cx="674.3" cy="255.0" r="1.25" fill="#111"/>
<circle cx="674.2" cy="259.2" r="1.38" fill="#111"/>
<circle cx="675.0" cy="263.2" r="1.20" fill="#111"/>
<circle cx="674.8" cy="268.0" r="1.13" fill="#111"/>
<circle cx="674.8" cy="272.3" r="1.47" fill="#111"/>
<circle cx="674.4" cy="276.4" r="1.39" fill="#111"/>
<circle cx="674.7" cy="280.8" r="1.34" fill="#111"/>
<circle cx="673.8" cy="285.3" r="1.46" fill="#111"/>
<circle cx="674.0" cy="290.5" r="1.38" fill="#111"/>
<circle cx="674.6" cy="295.2" r="1.17" fill="#111"/>
<circle cx="674.7" cy="299.5" r="1.12" fill="#111"/>
<circle cx="674.9" cy="303.6" r="1.14" fill="#111"/>
<circle cx="674.5" cy="308.0" r="1.15" fill="#111"/>
<line x1="687.3" y1="253.0" x2="687.3" y2="313.0" stroke="#111" stroke-width="1.4"/>
<circle cx="687.6" cy="255.0" r="1.39" fill="#111"/>
<circle cx="687.3" cy="259.3" r="1.48" fill="#111"/>
<circle cx="687.2" cy="263.5" r="1.32" fill="#111"/>
<circle cx="687.5" cy="268.3" r="1.37" fill="#111"/>
<circle cx="687.4" cy="272.5" r="1.42" fill="#111"/>
<circle cx="686.7" cy="277.4" r="1.39" fill="#111"/>
<circle cx="686.9" cy="281.9" r="1.20" fill="#111"/>
<circle cx="686.7" cy="286.3" r="1.16" fill="#111"/>
<circle cx="686.8" cy="290.8" r="1.24" fill="#111"/>
<circle cx="687.0" cy="295.6" r="1.15" fill="#111"/>
<circle cx="686.9" cy="300.1" r="1.19" fill="#111"/>
<circle cx="686.9" cy="305.2" r="1.27" fill="#111"/>
<circle cx="687.5" cy="310.0" r="1.19" fill="#111"/>
</g>
<circle cx="693.2" cy="283" r="30.0" fill="none" stroke="#111" stroke-width="1.5"/>
<polygon points="229.5,283.5 231,280.8 234,281 235.2,283.8 233.6,286.4 230.6,286.2" fill="none" stroke="#444" stroke-width="0.9"/>
</g>
<path d="M112,273.7 L179.3,273.7 L179.3,268.3 L189.6,278.9 L179.3,289.5 L179.3,284.2 L112,284.2 Z" fill="#34b87c"/>
<path d="M267,273.7 L334.3,273.7 L334.3,268.3 L344.6,278.9 L334.3,289.5 L334.3,284.2 L267,284.2 Z" fill="#34b87c"/>
<path d="M422,273.7 L489.3,273.7 L489.3,268.3 L499.6,278.9 L489.3,289.5 L489.3,284.2 L422,284.2 Z" fill="#34b87c"/>
<path d="M577,273.7 L644.3,273.7 L644.3,268.3 L654.6,278.9 L644.3,289.5 L644.3,284.2 L577,284.2 Z" fill="#34b87c"/>
<circle cx="72.5" cy="337.5" r="10.8" fill="none" stroke="#1a2f27" stroke-width="1.9"/>
<text x="72.5" y="343.6" font-size="17.5" font-style="italic" font-family="Liberation Sans" text-anchor="middle" fill="#17382b" stroke="#17382b" stroke-width="0.6">1</text>
<circle cx="306" cy="337.5" r="10.8" fill="none" stroke="#1a2f27" stroke-width="1.9"/>
<text x="306" y="343.6" font-size="17.5" font-style="normal" font-family="Liberation Sans" text-anchor="middle" fill="#17382b" stroke="#17382b" stroke-width="0.6">2</text>
<circle cx="532" cy="337.5" r="10.8" fill="none" stroke="#1a2f27" stroke-width="1.9"/>
<text x="532" y="343.6" font-size="17.5" font-style="normal" font-family="Liberation Sans" text-anchor="middle" fill="#17382b" stroke="#17382b" stroke-width="0.6">3</text>
<circle cx="694" cy="337.5" r="10.8" fill="none" stroke="#1a2f27" stroke-width="1.9"/>
<text x="694" y="343.6" font-size="17.5" font-style="italic" font-family="Liberation Sans" text-anchor="middle" fill="#17382b" stroke="#17382b" stroke-width="0.6">4</text>
<polyline points="107.8,401.7 115,389.2 123,401.7 130.8,389.2 140,400.5" fill="none" stroke="#111" stroke-width="2.2" stroke-linejoin="miter" stroke-linecap="butt"/>
<path d="M149.7,393.7 H159.7 M154.7,388.7 V398.7" stroke="#2a5444" stroke-width="1.7"/>
<polygon points="167.0,393.7 171.4,386.3 180.2,386.3 184.6,393.7 180.2,401.1 171.4,401.1" fill="none" stroke="#111" stroke-width="1.6"/>
<text x="176" y="397.6" font-size="11" text-anchor="middle" fill="#111" font-family="Liberation Sans">D</text>
<text x="215.5" y="387.8" font-size="9.3" font-weight="900" fill="#174d33" stroke="#174d33" stroke-width="0.15" text-anchor="middle" class="cjk" letter-spacing="0.2">催化剂</text>
<line x1="195" y1="399.2" x2="232.5" y2="399.2" stroke="#111" stroke-width="2.6"/>
<polyline points="222.0,393.59999999999997 233.5,399.2 222.0,404.8" fill="none" stroke="#111" stroke-width="2.6"/>
<polygon points="248.5,393.8 252.9,386.4 261.7,386.4 266.1,393.8 261.7,401.2 252.9,401.2" fill="none" stroke="#111" stroke-width="1.6"/>
<circle cx="257.3" cy="393.8" r="4.4" fill="none" stroke="#111" stroke-width="1.5"/>
<polyline points="269.2,398.3 275.8,389.2 284.2,401.7 292.5,389.2 300.8,400.5" fill="none" stroke="#111" stroke-width="2.2" stroke-linejoin="miter" stroke-linecap="butt"/>
<text x="126" y="423" font-size="9.3" font-weight="900" fill="#174d33" stroke="#174d33" stroke-width="0.15" text-anchor="middle" class="cjk" letter-spacing="0.2">主反应剂</text>
<text x="178" y="423" font-size="9.3" font-weight="900" fill="#174d33" stroke="#174d33" stroke-width="0.15" text-anchor="middle" class="cjk" letter-spacing="0.2">苯系物</text>
<text x="274.2" y="423" font-size="9.3" font-weight="900" fill="#174d33" stroke="#174d33" stroke-width="0.15" text-anchor="middle" class="cjk" letter-spacing="0.2">接枝聚合物</text>
<polyline points="108,451.7 115,438.7 123,451.7 130.8,438.7 139.7,449.7" fill="none" stroke="#111" stroke-width="2.2" stroke-linejoin="miter" stroke-linecap="butt"/>
<path d="M149.2,444.2 H159.2 M154.2,439.2 V449.2" stroke="#2a5444" stroke-width="1.7"/>
<polygon points="166.7,444.2 171.1,436.8 179.9,436.8 184.3,444.2 179.9,451.6 171.1,451.6" fill="none" stroke="#111" stroke-width="1.6"/>
<text x="175.7" y="448.1" font-size="11" text-anchor="middle" fill="#111" font-family="Liberation Sans">D</text>
<text x="215.5" y="437.3" font-size="9.3" font-weight="900" fill="#174d33" stroke="#174d33" stroke-width="0.15" text-anchor="middle" class="cjk" letter-spacing="0.2">催化剂</text>
<line x1="195" y1="448.3" x2="232.5" y2="448.3" stroke="#111" stroke-width="2.6"/>
<polyline points="222.0,442.7 233.5,448.3 222.0,453.90000000000003" fill="none" stroke="#111" stroke-width="2.6"/>
<polygon points="248.5,444.0 252.9,436.6 261.7,436.6 266.1,444.0 261.7,451.4 252.9,451.4" fill="none" stroke="#111" stroke-width="1.6"/>
<circle cx="257.3" cy="444" r="4.4" fill="none" stroke="#111" stroke-width="1.5"/>
<polyline points="268.3,445.8 275.3,453.3 282.5,445.8 289.7,454.7 295.3,445" fill="none" stroke="#111" stroke-width="2.2" stroke-linejoin="miter" stroke-linecap="butt"/>
<polyline points="94.8,493 97,482 107.2,492.8 120,483.6 126,493.2 131.6,486.8 142,491.2" fill="none" stroke="#111" stroke-width="2.2" stroke-linejoin="miter" stroke-linecap="butt"/>
<path d="M150,485.8 H160 M155,480.8 V490.8" stroke="#2a5444" stroke-width="1.7"/>
<text x="176.7" y="492" font-size="12.5" text-anchor="middle" fill="#285a48" stroke="#285a48" stroke-width="0.45" font-family="Liberation Sans">N</text>
<text x="126.7" y="511.5" font-size="9.3" font-weight="900" fill="#174d33" stroke="#174d33" stroke-width="0.15" text-anchor="middle" class="cjk" letter-spacing="0.2">主反应剂</text>
<text x="178.7" y="511.5" font-size="9.3" font-weight="900" fill="#174d33" stroke="#174d33" stroke-width="0.15" text-anchor="middle" class="cjk" letter-spacing="0.2">氨气</text>
<text x="216" y="483" font-size="9.3" font-weight="900" fill="#174d33" stroke="#174d33" stroke-width="0.15" text-anchor="middle" class="cjk" letter-spacing="0.2">催化剂</text>
<line x1="195.8" y1="493" x2="232.5" y2="493" stroke="#111" stroke-width="2.6"/>
<polyline points="222.0,487.4 233.5,493 222.0,498.6" fill="none" stroke="#111" stroke-width="2.6"/>
<text x="244.2" y="492" font-size="12.5" text-anchor="middle" fill="#285a48" stroke="#285a48" stroke-width="0.45" font-family="Liberation Sans">N</text>
<polyline points="251.9,492.8 254.5,481.6 264.7,493.9 277.5,483.2 283.9,493.3 289.2,486.4 298.8,491.2" fill="none" stroke="#111" stroke-width="2.2" stroke-linejoin="miter" stroke-linecap="butt"/>
<text x="306" y="492" font-size="12.5" text-anchor="middle" fill="#285a48" stroke="#285a48" stroke-width="0.45" font-family="Liberation Sans">N</text>
<text x="275" y="511.5" font-size="9.3" font-weight="900" fill="#174d33" stroke="#174d33" stroke-width="0.15" text-anchor="middle" class="cjk" letter-spacing="0.2">接枝聚合物</text>
<polyline points="437,404.9 448.2,390 457,402.8 466.6,390.8 473.8,399.6 486.6,388.4 492.2,398" fill="none" stroke="#111" stroke-width="2.2" stroke-linejoin="miter" stroke-linecap="butt"/>
<path d="M498.4,394.8 H507.4 M502.9,390.3 V399.3" stroke="#2a5444" stroke-width="1.7"/>
<text x="516.5" y="400.71999999999997" font-size="12" text-anchor="middle" fill="#244c3d" stroke="#244c3d" stroke-width="0.5" font-family="Liberation Sans">F</text>
<text x="517.8" y="416.3" font-size="9.3" font-weight="900" fill="#174d33" stroke="#174d33" stroke-width="0.15" text-anchor="middle" class="cjk" letter-spacing="0.2">甲醛</text>
<text x="467" y="423.5" font-size="9.3" font-weight="900" fill="#174d33" stroke="#174d33" stroke-width="0.15" text-anchor="middle" class="cjk" letter-spacing="0.2">主反应剂</text>
<text x="553" y="389.3" font-size="9.3" font-weight="900" fill="#174d33" stroke="#174d33" stroke-width="0.15" text-anchor="middle" class="cjk" letter-spacing="0.2">催化剂</text>
<line x1="532.5" y1="399.2" x2="564.2" y2="399.2" stroke="#111" stroke-width="2.4"/>
<polygon points="560.7,394.0 571.7,399.2 560.7,404.4 564.7,399.2" fill="none" stroke="#111" stroke-width="1.7999999999999998"/>
<polyline points="573.9,405 585.1,390.1 594.1,401.3 604.3,392 612.7,398.9 624.9,388.6 629.5,397" fill="none" stroke="#111" stroke-width="2.2" stroke-linejoin="miter" stroke-linecap="butt"/>
<polyline points="624.9,388.6 624.9,375.5" fill="none" stroke="#111" stroke-width="2.2" stroke-linejoin="miter" stroke-linecap="butt"/>
<text x="624.9" y="371.02" font-size="12" text-anchor="middle" fill="#244c3d" stroke="#244c3d" stroke-width="0.5" font-family="Liberation Sans">F</text>
<polyline points="594.1,401.3 594.1,409.1" fill="none" stroke="#111" stroke-width="2.2" stroke-linejoin="miter" stroke-linecap="butt"/>
<text x="591.3" y="422.32" font-size="12" text-anchor="middle" fill="#244c3d" stroke="#244c3d" stroke-width="0.5" font-family="Liberation Sans">F</text>
<text x="633" y="416.5" font-size="9.3" font-weight="900" fill="#174d33" stroke="#174d33" stroke-width="0.15" text-anchor="middle" class="cjk" letter-spacing="0.2">接枝聚合物</text>
<polyline points="429,485.6 440.2,470.1 448.9,481.9 460.1,471.4 468.2,478.9 479.7,468.8 485.3,478.2" fill="none" stroke="#111" stroke-width="2.2" stroke-linejoin="miter" stroke-linecap="butt"/>
<polyline points="479.7,468.8 479.7,456.1" fill="none" stroke="#111" stroke-width="2.2" stroke-linejoin="miter" stroke-linecap="butt"/>
<text x="479.7" y="451.32" font-size="12" text-anchor="middle" fill="#244c3d" stroke="#244c3d" stroke-width="0.5" font-family="Liberation Sans">F</text>
<polyline points="448.9,481.9 448.9,491.6" fill="none" stroke="#111" stroke-width="2.2" stroke-linejoin="miter" stroke-linecap="butt"/>
<text x="446.6" y="503.82" font-size="12" text-anchor="middle" fill="#244c3d" stroke="#244c3d" stroke-width="0.5" font-family="Liberation Sans">F</text>
<polyline points="500.6,485.6 511.79999999999995,470.1 520.5,481.9 531.7,471.4 539.8,478.9 551.3,468.8 556.9,478.2" fill="none" stroke="#111" stroke-width="2.2" stroke-linejoin="miter" stroke-linecap="butt"/>
<polyline points="551.3,468.8 551.3,456.1" fill="none" stroke="#111" stroke-width="2.2" stroke-linejoin="miter" stroke-linecap="butt"/>
<text x="551.3" y="451.32" font-size="12" text-anchor="middle" fill="#244c3d" stroke="#244c3d" stroke-width="0.5" font-family="Liberation Sans">F</text>
<polyline points="520.5,481.9 520.5,491.6" fill="none" stroke="#111" stroke-width="2.2" stroke-linejoin="miter" stroke-linecap="butt"/>
<text x="518.2" y="503.82" font-size="12" text-anchor="middle" fill="#244c3d" stroke="#244c3d" stroke-width="0.5" font-family="Liberation Sans">F</text>
<path d="M489.2,478.9 H498.2 M493.7,474.4 V483.4" stroke="#2a5444" stroke-width="1.7"/>
<text x="485" y="512" font-size="9.3" font-weight="900" fill="#174d33" stroke="#174d33" stroke-width="0.15" text-anchor="middle" class="cjk" letter-spacing="0.2">接枝聚合物</text>
<text x="588" y="469.2" font-size="9.3" font-weight="900" fill="#174d33" stroke="#174d33" stroke-width="0.15" text-anchor="middle" class="cjk" letter-spacing="0.2">催化剂</text>
<line x1="567" y1="479.8" x2="599.5" y2="479.8" stroke="#111" stroke-width="2.4"/>
<polygon points="596,474.6 607,479.8 596,485.0 600,479.8" fill="none" stroke="#111" stroke-width="1.7999999999999998"/>
<polyline points="618.2,461.4 623.8,455 628.9,461.9 635,456.6 639,460.6 647.8,454.2 651,458.2" fill="none" stroke="#111" stroke-width="1.8" stroke-linejoin="miter" stroke-linecap="butt"/>
<polyline points="647.8,454.2 647.8,450.2" fill="none" stroke="#111" stroke-width="1.8" stroke-linejoin="miter" stroke-linecap="butt"/>
<text x="649.4" y="449.46" font-size="8.5" text-anchor="middle" fill="#244c3d" stroke="#244c3d" stroke-width="0.4" font-family="Liberation Sans">F</text>
<polyline points="628.9,461.9 628.9,467.8" fill="none" stroke="#111" stroke-width="1.8" stroke-linejoin="miter" stroke-linecap="butt"/>
<text x="628.9" y="476.66" font-size="8.5" text-anchor="middle" fill="#244c3d" stroke="#244c3d" stroke-width="0.4" font-family="Liberation Sans">F</text>
<polyline points="639,460.6 639,467.8" fill="none" stroke="#111" stroke-width="2.4" stroke-linejoin="miter" stroke-linecap="butt"/>
<text x="643" y="476.66" font-size="8.5" text-anchor="middle" fill="#244c3d" stroke="#244c3d" stroke-width="0.4" font-family="Liberation Sans">F</text>
<polyline points="609.4,491 616.6,482.2 623,489.4 630.2,482.2 635,487 642.2,481.4 646.2,486.2" fill="none" stroke="#111" stroke-width="1.8" stroke-linejoin="miter" stroke-linecap="butt"/>
<polyline points="623,489.4 623,495.8" fill="none" stroke="#111" stroke-width="1.8" stroke-linejoin="miter" stroke-linecap="butt"/>
<text x="620" y="503.86" font-size="8.5" text-anchor="middle" fill="#244c3d" stroke="#244c3d" stroke-width="0.4" font-family="Liberation Sans">F</text>
<polyline points="630.2,482.2 630.2,477" fill="none" stroke="#111" stroke-width="1.8" stroke-linejoin="miter" stroke-linecap="butt"/>
<polyline points="642.2,481.4 642.2,477" fill="none" stroke="#111" stroke-width="1.8" stroke-linejoin="miter" stroke-linecap="butt"/>
</svg></body></html>
